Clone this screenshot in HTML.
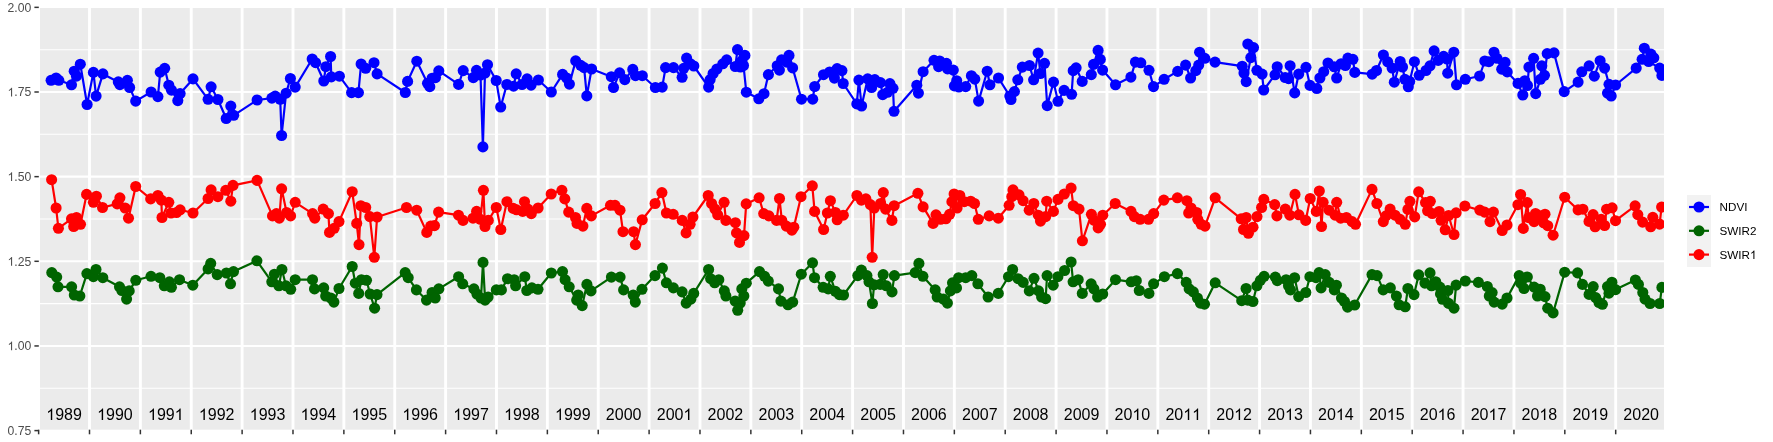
<!DOCTYPE html><html><head><meta charset="utf-8"><style>html,body{margin:0;padding:0;background:#fff;width:1773px;height:442px;overflow:hidden}svg{display:block;will-change:transform}text{font-family:"Liberation Sans",sans-serif}</style></head><body><svg width="1773" height="442" viewBox="0 0 1773 442"><rect x="0" y="0" width="1773" height="442" fill="#FFFFFF"/><rect x="40" y="8.00" width="1624" height="421.70" fill="#EBEBEB"/><line x1="40" x2="1664" y1="49.68" y2="49.68" stroke="#FFFFFF" stroke-width="1.07"/><line x1="40" x2="1664" y1="134.33" y2="134.33" stroke="#FFFFFF" stroke-width="1.07"/><line x1="40" x2="1664" y1="218.97" y2="218.97" stroke="#FFFFFF" stroke-width="1.07"/><line x1="40" x2="1664" y1="303.63" y2="303.63" stroke="#FFFFFF" stroke-width="1.07"/><line x1="40" x2="1664" y1="388.28" y2="388.28" stroke="#FFFFFF" stroke-width="1.07"/><line x1="40" x2="1664" y1="92.00" y2="92.00" stroke="#FFFFFF" stroke-width="2.13"/><line x1="40" x2="1664" y1="176.65" y2="176.65" stroke="#FFFFFF" stroke-width="2.13"/><line x1="40" x2="1664" y1="261.30" y2="261.30" stroke="#FFFFFF" stroke-width="2.13"/><line x1="40" x2="1664" y1="345.95" y2="345.95" stroke="#FFFFFF" stroke-width="2.13"/><line x1="89.50" x2="89.50" y1="8.00" y2="429.70" stroke="#FFFFFF" stroke-width="2.9"/><line x1="140.37" x2="140.37" y1="8.00" y2="429.70" stroke="#FFFFFF" stroke-width="2.9"/><line x1="191.25" x2="191.25" y1="8.00" y2="429.70" stroke="#FFFFFF" stroke-width="2.9"/><line x1="242.12" x2="242.12" y1="8.00" y2="429.70" stroke="#FFFFFF" stroke-width="2.9"/><line x1="292.99" x2="292.99" y1="8.00" y2="429.70" stroke="#FFFFFF" stroke-width="2.9"/><line x1="343.87" x2="343.87" y1="8.00" y2="429.70" stroke="#FFFFFF" stroke-width="2.9"/><line x1="394.74" x2="394.74" y1="8.00" y2="429.70" stroke="#FFFFFF" stroke-width="2.9"/><line x1="445.61" x2="445.61" y1="8.00" y2="429.70" stroke="#FFFFFF" stroke-width="2.9"/><line x1="496.48" x2="496.48" y1="8.00" y2="429.70" stroke="#FFFFFF" stroke-width="2.9"/><line x1="547.36" x2="547.36" y1="8.00" y2="429.70" stroke="#FFFFFF" stroke-width="2.9"/><line x1="598.23" x2="598.23" y1="8.00" y2="429.70" stroke="#FFFFFF" stroke-width="2.9"/><line x1="649.10" x2="649.10" y1="8.00" y2="429.70" stroke="#FFFFFF" stroke-width="2.9"/><line x1="699.98" x2="699.98" y1="8.00" y2="429.70" stroke="#FFFFFF" stroke-width="2.9"/><line x1="750.85" x2="750.85" y1="8.00" y2="429.70" stroke="#FFFFFF" stroke-width="2.9"/><line x1="801.72" x2="801.72" y1="8.00" y2="429.70" stroke="#FFFFFF" stroke-width="2.9"/><line x1="852.59" x2="852.59" y1="8.00" y2="429.70" stroke="#FFFFFF" stroke-width="2.9"/><line x1="903.47" x2="903.47" y1="8.00" y2="429.70" stroke="#FFFFFF" stroke-width="2.9"/><line x1="954.34" x2="954.34" y1="8.00" y2="429.70" stroke="#FFFFFF" stroke-width="2.9"/><line x1="1005.21" x2="1005.21" y1="8.00" y2="429.70" stroke="#FFFFFF" stroke-width="2.9"/><line x1="1056.09" x2="1056.09" y1="8.00" y2="429.70" stroke="#FFFFFF" stroke-width="2.9"/><line x1="1106.96" x2="1106.96" y1="8.00" y2="429.70" stroke="#FFFFFF" stroke-width="2.9"/><line x1="1157.83" x2="1157.83" y1="8.00" y2="429.70" stroke="#FFFFFF" stroke-width="2.9"/><line x1="1208.71" x2="1208.71" y1="8.00" y2="429.70" stroke="#FFFFFF" stroke-width="2.9"/><line x1="1259.58" x2="1259.58" y1="8.00" y2="429.70" stroke="#FFFFFF" stroke-width="2.9"/><line x1="1310.45" x2="1310.45" y1="8.00" y2="429.70" stroke="#FFFFFF" stroke-width="2.9"/><line x1="1361.33" x2="1361.33" y1="8.00" y2="429.70" stroke="#FFFFFF" stroke-width="2.9"/><line x1="1412.20" x2="1412.20" y1="8.00" y2="429.70" stroke="#FFFFFF" stroke-width="2.9"/><line x1="1463.07" x2="1463.07" y1="8.00" y2="429.70" stroke="#FFFFFF" stroke-width="2.9"/><line x1="1513.94" x2="1513.94" y1="8.00" y2="429.70" stroke="#FFFFFF" stroke-width="2.9"/><line x1="1564.82" x2="1564.82" y1="8.00" y2="429.70" stroke="#FFFFFF" stroke-width="2.9"/><line x1="1615.69" x2="1615.69" y1="8.00" y2="429.70" stroke="#FFFFFF" stroke-width="2.9"/><polygon points="52.23,420.00 50.83,420.00 50.83,411.04 50.32,411.52 49.65,412.01 48.83,412.49 48.01,412.88 48.01,411.52 49.20,410.83 50.19,410.05 50.89,409.25 51.32,408.55 52.23,408.55" fill="#000000"/><text x="55.17" y="420.00" font-family="Liberation Sans" font-size="16" fill="#000000">9</text><text x="64.06" y="420.00" font-family="Liberation Sans" font-size="16" fill="#000000">8</text><text x="72.96" y="420.00" font-family="Liberation Sans" font-size="16" fill="#000000">9</text><polygon points="103.11,420.00 101.70,420.00 101.70,411.04 101.19,411.52 100.53,412.01 99.71,412.49 98.89,412.88 98.89,411.52 100.07,410.83 101.06,410.05 101.76,409.25 102.19,408.55 103.11,408.55" fill="#000000"/><text x="106.04" y="420.00" font-family="Liberation Sans" font-size="16" fill="#000000">9</text><text x="114.94" y="420.00" font-family="Liberation Sans" font-size="16" fill="#000000">9</text><text x="123.83" y="420.00" font-family="Liberation Sans" font-size="16" fill="#000000">0</text><polygon points="153.98,420.00 152.57,420.00 152.57,411.04 152.06,411.52 151.40,412.01 150.58,412.49 149.76,412.88 149.76,411.52 150.95,410.83 151.93,410.05 152.63,409.25 153.06,408.55 153.98,408.55" fill="#000000"/><text x="156.91" y="420.00" font-family="Liberation Sans" font-size="16" fill="#000000">9</text><text x="165.81" y="420.00" font-family="Liberation Sans" font-size="16" fill="#000000">9</text><polygon points="180.67,420.00 179.26,420.00 179.26,411.04 178.75,411.52 178.09,412.01 177.27,412.49 176.45,412.88 176.45,411.52 177.64,410.83 178.62,410.05 179.32,409.25 179.75,408.55 180.67,408.55" fill="#000000"/><polygon points="204.85,420.00 203.45,420.00 203.45,411.04 202.94,411.52 202.27,412.01 201.45,412.49 200.63,412.88 200.63,411.52 201.82,410.83 202.80,410.05 203.51,409.25 203.94,408.55 204.85,408.55" fill="#000000"/><text x="207.79" y="420.00" font-family="Liberation Sans" font-size="16" fill="#000000">9</text><text x="216.68" y="420.00" font-family="Liberation Sans" font-size="16" fill="#000000">9</text><text x="225.58" y="420.00" font-family="Liberation Sans" font-size="16" fill="#000000">2</text><polygon points="255.72,420.00 254.32,420.00 254.32,411.04 253.81,411.52 253.15,412.01 252.33,412.49 251.51,412.88 251.51,411.52 252.69,410.83 253.68,410.05 254.38,409.25 254.81,408.55 255.72,408.55" fill="#000000"/><text x="258.66" y="420.00" font-family="Liberation Sans" font-size="16" fill="#000000">9</text><text x="267.56" y="420.00" font-family="Liberation Sans" font-size="16" fill="#000000">9</text><text x="276.45" y="420.00" font-family="Liberation Sans" font-size="16" fill="#000000">3</text><polygon points="306.60,420.00 305.19,420.00 305.19,411.04 304.68,411.52 304.02,412.01 303.20,412.49 302.38,412.88 302.38,411.52 303.57,410.83 304.55,410.05 305.25,409.25 305.68,408.55 306.60,408.55" fill="#000000"/><text x="309.53" y="420.00" font-family="Liberation Sans" font-size="16" fill="#000000">9</text><text x="318.43" y="420.00" font-family="Liberation Sans" font-size="16" fill="#000000">9</text><text x="327.32" y="420.00" font-family="Liberation Sans" font-size="16" fill="#000000">4</text><polygon points="357.47,420.00 356.06,420.00 356.06,411.04 355.56,411.52 354.89,412.01 354.07,412.49 353.25,412.88 353.25,411.52 354.44,410.83 355.42,410.05 356.13,409.25 356.56,408.55 357.47,408.55" fill="#000000"/><text x="360.41" y="420.00" font-family="Liberation Sans" font-size="16" fill="#000000">9</text><text x="369.30" y="420.00" font-family="Liberation Sans" font-size="16" fill="#000000">9</text><text x="378.20" y="420.00" font-family="Liberation Sans" font-size="16" fill="#000000">5</text><polygon points="408.34,420.00 406.94,420.00 406.94,411.04 406.43,411.52 405.77,412.01 404.94,412.49 404.12,412.88 404.12,411.52 405.31,410.83 406.30,410.05 407.00,409.25 407.43,408.55 408.34,408.55" fill="#000000"/><text x="411.28" y="420.00" font-family="Liberation Sans" font-size="16" fill="#000000">9</text><text x="420.17" y="420.00" font-family="Liberation Sans" font-size="16" fill="#000000">9</text><text x="429.07" y="420.00" font-family="Liberation Sans" font-size="16" fill="#000000">6</text><polygon points="459.22,420.00 457.81,420.00 457.81,411.04 457.30,411.52 456.64,412.01 455.82,412.49 455.00,412.88 455.00,411.52 456.19,410.83 457.17,410.05 457.87,409.25 458.30,408.55 459.22,408.55" fill="#000000"/><text x="462.15" y="420.00" font-family="Liberation Sans" font-size="16" fill="#000000">9</text><text x="471.05" y="420.00" font-family="Liberation Sans" font-size="16" fill="#000000">9</text><text x="479.94" y="420.00" font-family="Liberation Sans" font-size="16" fill="#000000">7</text><polygon points="510.09,420.00 508.68,420.00 508.68,411.04 508.18,411.52 507.51,412.01 506.69,412.49 505.87,412.88 505.87,411.52 507.06,410.83 508.04,410.05 508.75,409.25 509.18,408.55 510.09,408.55" fill="#000000"/><text x="513.02" y="420.00" font-family="Liberation Sans" font-size="16" fill="#000000">9</text><text x="521.92" y="420.00" font-family="Liberation Sans" font-size="16" fill="#000000">9</text><text x="530.82" y="420.00" font-family="Liberation Sans" font-size="16" fill="#000000">8</text><polygon points="560.96,420.00 559.56,420.00 559.56,411.04 559.05,411.52 558.38,412.01 557.56,412.49 556.74,412.88 556.74,411.52 557.93,410.83 558.92,410.05 559.62,409.25 560.05,408.55 560.96,408.55" fill="#000000"/><text x="563.90" y="420.00" font-family="Liberation Sans" font-size="16" fill="#000000">9</text><text x="572.79" y="420.00" font-family="Liberation Sans" font-size="16" fill="#000000">9</text><text x="581.69" y="420.00" font-family="Liberation Sans" font-size="16" fill="#000000">9</text><text x="605.87" y="420.00" font-family="Liberation Sans" font-size="16" fill="#000000">2</text><text x="614.77" y="420.00" font-family="Liberation Sans" font-size="16" fill="#000000">0</text><text x="623.67" y="420.00" font-family="Liberation Sans" font-size="16" fill="#000000">0</text><text x="632.56" y="420.00" font-family="Liberation Sans" font-size="16" fill="#000000">0</text><text x="656.75" y="420.00" font-family="Liberation Sans" font-size="16" fill="#000000">2</text><text x="665.64" y="420.00" font-family="Liberation Sans" font-size="16" fill="#000000">0</text><text x="674.54" y="420.00" font-family="Liberation Sans" font-size="16" fill="#000000">0</text><polygon points="689.40,420.00 687.99,420.00 687.99,411.04 687.48,411.52 686.82,412.01 686.00,412.49 685.18,412.88 685.18,411.52 686.37,410.83 687.35,410.05 688.05,409.25 688.48,408.55 689.40,408.55" fill="#000000"/><text x="707.62" y="420.00" font-family="Liberation Sans" font-size="16" fill="#000000">2</text><text x="716.52" y="420.00" font-family="Liberation Sans" font-size="16" fill="#000000">0</text><text x="725.41" y="420.00" font-family="Liberation Sans" font-size="16" fill="#000000">0</text><text x="734.31" y="420.00" font-family="Liberation Sans" font-size="16" fill="#000000">2</text><text x="758.49" y="420.00" font-family="Liberation Sans" font-size="16" fill="#000000">2</text><text x="767.39" y="420.00" font-family="Liberation Sans" font-size="16" fill="#000000">0</text><text x="776.29" y="420.00" font-family="Liberation Sans" font-size="16" fill="#000000">0</text><text x="785.18" y="420.00" font-family="Liberation Sans" font-size="16" fill="#000000">3</text><text x="809.37" y="420.00" font-family="Liberation Sans" font-size="16" fill="#000000">2</text><text x="818.26" y="420.00" font-family="Liberation Sans" font-size="16" fill="#000000">0</text><text x="827.16" y="420.00" font-family="Liberation Sans" font-size="16" fill="#000000">0</text><text x="836.05" y="420.00" font-family="Liberation Sans" font-size="16" fill="#000000">4</text><text x="860.24" y="420.00" font-family="Liberation Sans" font-size="16" fill="#000000">2</text><text x="869.14" y="420.00" font-family="Liberation Sans" font-size="16" fill="#000000">0</text><text x="878.03" y="420.00" font-family="Liberation Sans" font-size="16" fill="#000000">0</text><text x="886.93" y="420.00" font-family="Liberation Sans" font-size="16" fill="#000000">5</text><text x="911.11" y="420.00" font-family="Liberation Sans" font-size="16" fill="#000000">2</text><text x="920.01" y="420.00" font-family="Liberation Sans" font-size="16" fill="#000000">0</text><text x="928.90" y="420.00" font-family="Liberation Sans" font-size="16" fill="#000000">0</text><text x="937.80" y="420.00" font-family="Liberation Sans" font-size="16" fill="#000000">6</text><text x="961.99" y="420.00" font-family="Liberation Sans" font-size="16" fill="#000000">2</text><text x="970.88" y="420.00" font-family="Liberation Sans" font-size="16" fill="#000000">0</text><text x="979.78" y="420.00" font-family="Liberation Sans" font-size="16" fill="#000000">0</text><text x="988.67" y="420.00" font-family="Liberation Sans" font-size="16" fill="#000000">7</text><text x="1012.86" y="420.00" font-family="Liberation Sans" font-size="16" fill="#000000">2</text><text x="1021.75" y="420.00" font-family="Liberation Sans" font-size="16" fill="#000000">0</text><text x="1030.65" y="420.00" font-family="Liberation Sans" font-size="16" fill="#000000">0</text><text x="1039.55" y="420.00" font-family="Liberation Sans" font-size="16" fill="#000000">8</text><text x="1063.73" y="420.00" font-family="Liberation Sans" font-size="16" fill="#000000">2</text><text x="1072.63" y="420.00" font-family="Liberation Sans" font-size="16" fill="#000000">0</text><text x="1081.52" y="420.00" font-family="Liberation Sans" font-size="16" fill="#000000">0</text><text x="1090.42" y="420.00" font-family="Liberation Sans" font-size="16" fill="#000000">9</text><text x="1114.60" y="420.00" font-family="Liberation Sans" font-size="16" fill="#000000">2</text><text x="1123.50" y="420.00" font-family="Liberation Sans" font-size="16" fill="#000000">0</text><polygon points="1138.36,420.00 1136.95,420.00 1136.95,411.04 1136.44,411.52 1135.78,412.01 1134.96,412.49 1134.14,412.88 1134.14,411.52 1135.33,410.83 1136.31,410.05 1137.01,409.25 1137.44,408.55 1138.36,408.55" fill="#000000"/><text x="1141.29" y="420.00" font-family="Liberation Sans" font-size="16" fill="#000000">0</text><text x="1165.48" y="420.00" font-family="Liberation Sans" font-size="16" fill="#000000">2</text><text x="1174.37" y="420.00" font-family="Liberation Sans" font-size="16" fill="#000000">0</text><polygon points="1189.23,420.00 1187.82,420.00 1187.82,411.04 1187.32,411.52 1186.65,412.01 1185.83,412.49 1185.01,412.88 1185.01,411.52 1186.20,410.83 1187.18,410.05 1187.89,409.25 1188.32,408.55 1189.23,408.55" fill="#000000"/><polygon points="1198.13,420.00 1196.72,420.00 1196.72,411.04 1196.21,411.52 1195.55,412.01 1194.73,412.49 1193.91,412.88 1193.91,411.52 1195.10,410.83 1196.08,410.05 1196.78,409.25 1197.21,408.55 1198.13,408.55" fill="#000000"/><text x="1216.35" y="420.00" font-family="Liberation Sans" font-size="16" fill="#000000">2</text><text x="1225.25" y="420.00" font-family="Liberation Sans" font-size="16" fill="#000000">0</text><polygon points="1240.10,420.00 1238.70,420.00 1238.70,411.04 1238.19,411.52 1237.53,412.01 1236.70,412.49 1235.88,412.88 1235.88,411.52 1237.07,410.83 1238.06,410.05 1238.76,409.25 1239.19,408.55 1240.10,408.55" fill="#000000"/><text x="1243.04" y="420.00" font-family="Liberation Sans" font-size="16" fill="#000000">2</text><text x="1267.22" y="420.00" font-family="Liberation Sans" font-size="16" fill="#000000">2</text><text x="1276.12" y="420.00" font-family="Liberation Sans" font-size="16" fill="#000000">0</text><polygon points="1290.98,420.00 1289.57,420.00 1289.57,411.04 1289.06,411.52 1288.40,412.01 1287.58,412.49 1286.76,412.88 1286.76,411.52 1287.95,410.83 1288.93,410.05 1289.63,409.25 1290.06,408.55 1290.98,408.55" fill="#000000"/><text x="1293.91" y="420.00" font-family="Liberation Sans" font-size="16" fill="#000000">3</text><text x="1318.10" y="420.00" font-family="Liberation Sans" font-size="16" fill="#000000">2</text><text x="1326.99" y="420.00" font-family="Liberation Sans" font-size="16" fill="#000000">0</text><polygon points="1341.85,420.00 1340.44,420.00 1340.44,411.04 1339.94,411.52 1339.27,412.01 1338.45,412.49 1337.63,412.88 1337.63,411.52 1338.82,410.83 1339.80,410.05 1340.51,409.25 1340.94,408.55 1341.85,408.55" fill="#000000"/><text x="1344.78" y="420.00" font-family="Liberation Sans" font-size="16" fill="#000000">4</text><text x="1368.97" y="420.00" font-family="Liberation Sans" font-size="16" fill="#000000">2</text><text x="1377.87" y="420.00" font-family="Liberation Sans" font-size="16" fill="#000000">0</text><polygon points="1392.72,420.00 1391.32,420.00 1391.32,411.04 1390.81,411.52 1390.14,412.01 1389.32,412.49 1388.50,412.88 1388.50,411.52 1389.69,410.83 1390.68,410.05 1391.38,409.25 1391.81,408.55 1392.72,408.55" fill="#000000"/><text x="1395.66" y="420.00" font-family="Liberation Sans" font-size="16" fill="#000000">5</text><text x="1419.84" y="420.00" font-family="Liberation Sans" font-size="16" fill="#000000">2</text><text x="1428.74" y="420.00" font-family="Liberation Sans" font-size="16" fill="#000000">0</text><polygon points="1443.60,420.00 1442.19,420.00 1442.19,411.04 1441.68,411.52 1441.02,412.01 1440.20,412.49 1439.38,412.88 1439.38,411.52 1440.56,410.83 1441.55,410.05 1442.25,409.25 1442.68,408.55 1443.60,408.55" fill="#000000"/><text x="1446.53" y="420.00" font-family="Liberation Sans" font-size="16" fill="#000000">6</text><text x="1470.72" y="420.00" font-family="Liberation Sans" font-size="16" fill="#000000">2</text><text x="1479.61" y="420.00" font-family="Liberation Sans" font-size="16" fill="#000000">0</text><polygon points="1494.47,420.00 1493.06,420.00 1493.06,411.04 1492.55,411.52 1491.89,412.01 1491.07,412.49 1490.25,412.88 1490.25,411.52 1491.44,410.83 1492.42,410.05 1493.12,409.25 1493.55,408.55 1494.47,408.55" fill="#000000"/><text x="1497.40" y="420.00" font-family="Liberation Sans" font-size="16" fill="#000000">7</text><text x="1521.59" y="420.00" font-family="Liberation Sans" font-size="16" fill="#000000">2</text><text x="1530.48" y="420.00" font-family="Liberation Sans" font-size="16" fill="#000000">0</text><polygon points="1545.34,420.00 1543.94,420.00 1543.94,411.04 1543.43,411.52 1542.76,412.01 1541.94,412.49 1541.12,412.88 1541.12,411.52 1542.31,410.83 1543.29,410.05 1544.00,409.25 1544.43,408.55 1545.34,408.55" fill="#000000"/><text x="1548.28" y="420.00" font-family="Liberation Sans" font-size="16" fill="#000000">8</text><text x="1572.46" y="420.00" font-family="Liberation Sans" font-size="16" fill="#000000">2</text><text x="1581.36" y="420.00" font-family="Liberation Sans" font-size="16" fill="#000000">0</text><polygon points="1596.21,420.00 1594.81,420.00 1594.81,411.04 1594.30,411.52 1593.64,412.01 1592.82,412.49 1592.00,412.88 1592.00,411.52 1593.18,410.83 1594.17,410.05 1594.87,409.25 1595.30,408.55 1596.21,408.55" fill="#000000"/><text x="1599.15" y="420.00" font-family="Liberation Sans" font-size="16" fill="#000000">9</text><text x="1623.33" y="420.00" font-family="Liberation Sans" font-size="16" fill="#000000">2</text><text x="1632.23" y="420.00" font-family="Liberation Sans" font-size="16" fill="#000000">0</text><text x="1641.13" y="420.00" font-family="Liberation Sans" font-size="16" fill="#000000">2</text><text x="1650.02" y="420.00" font-family="Liberation Sans" font-size="16" fill="#000000">0</text><defs><clipPath id="pc"><rect x="40" y="8.0" width="1624" height="421.7"/></clipPath></defs><g clip-path="url(#pc)"><path d="M51.1,80.3 L56.1,78.0 L58.8,80.3 L71.5,84.8 L74.2,71.2 L76.5,76.2 L80.3,64.2 L87.1,104.5 L93.4,72.4 L96.1,96.1 L102.9,73.9 L118.3,81.9 L119.9,84.6 L127.4,80.3 L129.6,87.5 L135.7,101.1 L151.1,92.0 L157.9,96.6 L160.2,72.1 L164.7,68.3 L168.8,85.2 L171.5,90.2 L177.8,100.6 L180.1,93.6 L193.0,78.9 L208.1,99.3 L211.1,86.8 L217.9,99.5 L226.2,118.5 L230.8,106.1 L233.7,115.3 L257.1,100.0 L271.9,98.1 L275.2,96.1 L280.2,99.3 L281.6,135.5 L286.1,93.2 L290.4,78.5 L295.2,87.1 L312.2,59.0 L315.6,62.7 L323.8,81.0 L325.8,66.7 L330.6,56.5 L331.3,76.9 L339.4,76.2 L351.6,92.6 L358.4,92.6 L361.1,64.0 L365.7,68.3 L374.0,62.7 L377.1,73.9 L405.3,92.5 L407.6,81.4 L416.8,61.2 L427.5,83.3 L429.8,86.7 L432.1,78.2 L435.5,77.6 L438.8,70.8 L458.6,84.4 L463.2,70.6 L473.3,77.6 L476.5,70.3 L480.5,75.0 L482.9,146.9 L485.0,73.0 L487.5,64.7 L496.2,80.5 L500.7,107.0 L506.8,84.5 L513.6,86.2 L516.2,73.8 L522.0,84.5 L527.1,78.8 L531.1,85.1 L538.4,80.0 L551.3,92.0 L562.6,74.4 L566.7,78.0 L569.4,84.1 L575.7,60.8 L580.7,65.3 L584.1,67.6 L586.8,95.9 L591.6,69.0 L611.3,76.7 L613.5,87.5 L619.6,72.8 L624.8,79.6 L632.8,69.4 L635.5,75.7 L642.3,75.7 L655.4,87.5 L662.2,87.1 L665.6,67.6 L673.5,67.6 L682.1,77.3 L683.7,68.3 L686.6,58.1 L690.5,63.8 L693.8,66.0 L708.6,87.1 L710.1,79.6 L713.1,73.5 L716.9,69.0 L722.8,63.8 L726.7,59.9 L735.3,66.5 L737.5,49.6 L741.9,60.6 L744.9,55.4 L740.5,67.0 L743.5,65.5 L746.3,92.2 L758.8,98.8 L764.0,93.7 L768.4,74.6 L777.2,65.7 L779.4,70.1 L781.6,59.9 L786.8,62.1 L789.0,55.4 L792.6,67.9 L801.5,99.2 L812.7,99.2 L814.7,86.5 L823.5,74.7 L829.6,72.0 L834.4,78.1 L837.1,68.6 L841.9,70.6 L843.2,83.5 L856.8,103.9 L858.9,80.1 L861.6,106.0 L867.7,78.8 L871.6,87.5 L874.8,79.6 L880.5,82.6 L882.7,94.7 L887.5,92.3 L889.9,83.6 L893.0,88.3 L894.0,111.3 L916.8,85.2 L918.4,93.1 L923.1,71.7 L934.0,60.3 L939.7,61.0 L938.6,66.7 L946.5,63.3 L947.6,68.9 L953.3,70.1 L954.4,85.9 L956.7,80.7 L958.9,87.0 L965.7,86.6 L971.4,75.7 L974.8,79.1 L978.6,101.1 L987.2,71.2 L989.9,84.8 L998.5,78.0 L1009.8,96.1 L1011.0,99.5 L1014.4,91.6 L1017.8,79.8 L1022.3,67.1 L1029.5,65.5 L1033.6,79.8 L1038.1,53.1 L1040.4,73.5 L1044.5,63.3 L1047.2,105.6 L1053.5,82.1 L1058.0,101.3 L1064.1,90.4 L1071.6,94.3 L1073.2,70.7 L1076.1,67.8 L1082.2,81.4 L1091.3,74.6 L1093.6,64.4 L1098.1,50.4 L1100.3,59.4 L1102.6,70.1 L1115.5,84.8 L1130.9,77.1 L1135.4,62.1 L1140.8,62.8 L1149.0,70.3 L1153.5,86.6 L1164.1,79.3 L1177.7,71.4 L1185.6,65.1 L1190.6,78.0 L1195.8,70.7 L1198.7,65.1 L1199.6,52.2 L1204.8,58.3 L1215.0,62.1 L1242.2,66.2 L1244.0,73.0 L1246.2,81.6 L1250.8,57.6 L1247.8,44.0 L1253.5,47.6 L1256.9,70.3 L1262.1,74.1 L1263.7,90.0 L1275.0,74.8 L1277.2,66.7 L1285.2,77.5 L1288.6,78.6 L1290.1,65.7 L1294.7,92.9 L1298.7,74.1 L1306.0,67.3 L1310.0,85.4 L1316.8,88.5 L1319.9,78.0 L1323.7,71.7 L1328.0,63.0 L1334.2,66.8 L1336.7,78.0 L1341.1,63.7 L1345.4,65.5 L1347.9,58.1 L1352.9,59.3 L1354.8,72.4 L1372.2,74.2 L1376.5,70.5 L1383.4,55.0 L1387.7,61.8 L1392.1,68.0 L1394.3,82.2 L1400.2,61.5 L1402.5,67.0 L1404.9,79.3 L1408.3,86.8 L1409.7,81.4 L1414.4,61.7 L1419.2,75.3 L1426.0,70.5 L1430.0,65.8 L1434.1,50.9 L1438.2,60.4 L1443.6,56.3 L1447.0,59.0 L1447.7,73.2 L1453.8,52.2 L1456.5,84.8 L1465.3,79.3 L1479.6,76.0 L1484.8,61.0 L1488.9,61.7 L1494.0,52.2 L1497.0,58.3 L1501.7,69.2 L1505.1,62.4 L1507.2,71.9 L1518.0,83.4 L1522.8,95.0 L1524.8,80.7 L1527.5,85.5 L1528.9,67.1 L1533.6,58.3 L1535.7,93.6 L1540.4,79.3 L1541.8,65.8 L1544.5,75.3 L1547.2,53.6 L1554.0,52.9 L1564.2,91.6 L1578.1,82.1 L1581.8,71.8 L1589.1,65.9 L1594.3,76.2 L1600.1,60.7 L1604.6,68.1 L1609.0,84.3 L1607.5,93.1 L1611.2,96.0 L1615.6,85.0 L1636.2,68.1 L1642.1,59.3 L1644.3,48.2 L1650.9,54.1 L1653.8,57.8 L1648.7,61.5 L1659.7,68.1 L1661.9,75.4" fill="none" stroke="#0000FF" stroke-width="2.2" stroke-linejoin="round" stroke-linecap="butt"/><path d="M51.8,272.6 L56.7,277.1 L58.0,286.8 L71.6,286.8 L74.3,295.0 L79.8,296.0 L86.9,273.6 L93.4,276.7 L96.0,269.5 L102.8,277.7 L119.5,286.8 L121.9,290.5 L126.6,299.1 L129.2,290.9 L135.8,280.3 L151.0,276.3 L159.8,277.7 L164.3,285.8 L169.4,281.8 L171.4,287.3 L179.5,279.7 L192.8,285.2 L208.1,268.9 L210.7,263.4 L217.2,274.6 L226.4,273.0 L230.5,283.8 L233.5,271.6 L256.9,260.8 L271.8,281.8 L274.4,274.2 L278.9,285.8 L281.9,269.5 L286.0,285.8 L290.7,289.3 L295.2,279.7 L312.5,279.7 L314.5,288.9 L323.7,287.9 L325.7,296.0 L330.8,298.0 L333.9,302.1 L339.0,288.5 L352.2,266.5 L355.3,283.2 L358.7,293.4 L361.4,279.7 L366.5,280.3 L370.1,294.0 L374.6,308.2 L377.0,294.6 L405.2,272.6 L408.2,277.7 L416.4,289.9 L426.5,300.1 L432.1,292.5 L435.2,298.0 L438.8,288.9 L458.6,276.7 L462.7,283.8 L473.9,288.9 L476.9,294.0 L481.0,298.0 L483.0,262.4 L485.1,300.1 L488.1,297.0 L496.3,289.9 L501.4,289.9 L507.5,278.7 L514.2,279.7 L515.6,285.8 L524.8,276.7 L526.8,290.5 L531.9,287.9 L538.0,289.3 L551.3,273.0 L562.5,271.6 L565.1,279.7 L569.2,286.8 L576.7,300.1 L578.2,295.0 L582.2,305.6 L586.9,284.4 L591.0,290.9 L611.4,277.1 L620.1,277.1 L623.6,289.9 L633.2,295.0 L635.3,302.1 L642.0,289.3 L655.0,275.6 L662.4,268.1 L666.4,282.8 L673.4,287.9 L682.1,291.9 L686.2,303.1 L690.9,299.1 L693.7,293.4 L708.6,269.5 L710.6,278.7 L714.7,282.8 L718.8,279.7 L724.3,290.9 L725.9,296.0 L735.1,301.1 L737.7,310.3 L740.2,303.1 L743.8,296.0 L741.8,288.9 L746.3,283.2 L759.5,271.6 L764.6,276.3 L768.3,281.1 L778.5,288.9 L780.9,301.1 L788.0,304.8 L792.7,302.1 L801.3,274.2 L812.5,262.8 L814.5,277.7 L823.1,287.3 L828.2,288.9 L830.3,276.3 L835.4,291.3 L839.4,294.6 L843.5,295.0 L857.8,275.6 L861.4,270.1 L866.9,275.6 L869.0,281.8 L872.4,303.5 L874.1,284.8 L880.2,284.4 L883.2,274.6 L886.3,285.8 L892.0,291.9 L894.4,275.6 L915.2,272.6 L918.9,263.4 L922.9,276.3 L935.2,289.9 L937.2,297.0 L943.3,299.1 L947.4,303.1 L950.4,290.9 L952.5,282.8 L956.5,287.9 L958.6,277.7 L965.7,277.7 L971.8,275.6 L977.9,283.8 L988.1,297.0 L998.3,293.4 L1008.5,276.7 L1012.6,269.5 L1018.1,278.7 L1023.2,282.4 L1029.3,290.9 L1034.0,278.3 L1038.5,290.9 L1041.6,297.0 L1045.6,298.7 L1047.1,275.6 L1053.2,285.2 L1057.9,276.7 L1064.6,270.5 L1071.1,262.0 L1073.1,281.8 L1078.2,279.7 L1082.3,293.4 L1091.1,283.8 L1093.9,288.9 L1097.6,297.0 L1102.7,294.0 L1115.5,279.7 L1131.2,281.8 L1136.3,280.7 L1139.3,290.5 L1148.9,293.4 L1153.6,283.8 L1164.4,276.7 L1177.4,273.6 L1186.2,282.4 L1189.2,288.9 L1193.3,291.9 L1197.4,298.0 L1200.4,303.1 L1204.5,304.2 L1215.2,282.8 L1241.7,300.7 L1246.1,288.5 L1247.8,300.1 L1252.9,301.5 L1256.9,285.8 L1260.4,280.3 L1264.1,276.3 L1275.3,277.1 L1277.3,280.7 L1286.1,279.7 L1288.5,285.8 L1290.5,289.9 L1294.6,277.7 L1298.7,296.6 L1305.8,292.5 L1309.9,276.7 L1316.0,277.7 L1319.1,272.6 L1321.1,287.9 L1325.2,274.6 L1329.2,282.4 L1334.3,289.9 L1336.4,285.2 L1341.5,298.0 L1344.5,301.5 L1347.6,307.2 L1354.7,305.0 L1372.0,274.6 L1377.1,275.6 L1383.2,289.9 L1390.3,287.9 L1396.4,296.0 L1399.1,304.8 L1405.2,306.8 L1407.9,288.5 L1414.0,294.6 L1418.7,274.9 L1424.9,283.1 L1430.0,272.9 L1431.6,285.8 L1435.7,281.7 L1439.8,287.1 L1440.5,293.9 L1442.5,299.3 L1447.9,290.5 L1448.6,303.4 L1454.0,308.2 L1456.1,285.1 L1465.3,281.0 L1478.4,282.4 L1487.3,286.5 L1489.3,296.0 L1492.1,292.6 L1494.1,302.1 L1502.2,304.1 L1507.0,298.0 L1519.2,275.6 L1520.6,283.1 L1524.0,288.5 L1527.3,277.0 L1534.1,287.1 L1537.5,296.0 L1540.2,289.2 L1545.0,296.6 L1547.7,308.2 L1553.1,312.9 L1564.7,272.2 L1577.6,272.9 L1582.5,284.4 L1589.1,294.4 L1593.2,286.6 L1595.7,297.6 L1599.0,302.5 L1602.4,304.3 L1607.5,286.6 L1609.0,293.2 L1611.9,282.2 L1615.6,289.6 L1635.4,280.0 L1638.4,284.4 L1642.8,292.5 L1645.0,299.1 L1650.1,303.5 L1659.7,303.5 L1661.9,287.4" fill="none" stroke="#006400" stroke-width="2.2" stroke-linejoin="round" stroke-linecap="butt"/><path d="M51.6,179.7 L56.1,208.0 L58.4,228.3 L71.5,218.8 L73.7,226.5 L76.5,217.5 L80.5,224.3 L86.6,194.4 L93.4,202.3 L96.4,196.2 L102.5,207.5 L117.2,203.9 L119.9,197.8 L125.1,208.0 L128.5,218.2 L135.7,186.5 L150.7,198.9 L157.9,195.5 L161.3,200.1 L162.0,217.5 L168.8,202.3 L171.0,213.0 L176.5,212.5 L180.1,209.8 L193.0,213.0 L208.1,198.5 L211.1,189.9 L217.9,196.7 L225.8,190.3 L230.8,201.2 L233.0,185.4 L257.1,180.4 L272.5,215.9 L276.4,213.6 L279.3,218.2 L281.6,188.8 L286.6,212.5 L290.6,215.9 L295.2,202.3 L312.6,213.6 L314.8,218.2 L323.2,209.1 L328.4,213.6 L329.5,232.4 L334.1,228.3 L339.0,221.6 L352.2,191.7 L356.7,223.4 L359.0,244.6 L360.8,205.7 L365.7,207.5 L369.8,216.6 L374.3,257.3 L377.1,217.0 L406.5,207.5 L416.7,210.2 L426.8,232.4 L430.7,226.1 L434.5,225.6 L438.6,212.1 L458.5,215.2 L463.0,220.4 L473.0,218.2 L476.6,211.4 L480.4,219.3 L483.4,190.3 L485.0,226.5 L488.3,220.4 L496.3,207.5 L500.8,229.5 L506.9,201.7 L513.2,208.4 L516.6,209.8 L522.7,211.4 L524.5,201.7 L527.9,209.1 L531.3,213.6 L538.1,208.0 L551.2,194.0 L561.9,190.3 L564.8,198.9 L568.7,212.1 L575.5,217.5 L577.0,223.4 L582.9,226.1 L586.8,208.4 L591.3,215.9 L610.5,205.3 L615.0,205.3 L620.0,210.2 L623.0,231.7 L633.6,231.7 L635.4,244.6 L642.2,219.8 L655.1,203.5 L661.9,192.6 L666.4,213.0 L673.2,214.3 L682.2,220.4 L686.1,232.9 L690.1,224.3 L692.9,217.0 L708.2,195.5 L711.6,203.5 L715.0,209.1 L717.7,214.8 L724.1,202.3 L725.9,220.4 L735.4,222.7 L736.5,232.9 L739.5,242.4 L744.0,235.6 L746.2,203.9 L759.1,197.8 L763.7,213.6 L768.9,215.9 L776.6,220.4 L779.5,198.5 L781.8,220.4 L786.3,226.1 L791.9,230.2 L793.8,227.2 L801.0,196.7 L812.3,185.8 L814.6,211.4 L823.6,229.5 L827.4,213.0 L830.4,200.7 L835.4,212.5 L837.2,219.8 L843.3,215.2 L856.9,195.5 L861.4,200.1 L865.9,198.9 L870.4,204.6 L872.2,257.3 L874.3,208.0 L880.6,203.5 L883.3,192.6 L885.6,209.1 L891.9,220.4 L894.2,205.7 L917.9,193.3 L923.1,206.9 L933.1,223.4 L936.0,214.8 L940.6,219.3 L945.8,218.8 L949.6,214.3 L951.9,201.7 L954.1,194.0 L957.1,208.0 L959.8,195.5 L964.3,201.7 L970.7,201.2 L974.5,203.5 L978.3,219.3 L989.2,215.9 L998.3,218.2 L1009.1,205.3 L1011.8,196.7 L1013.0,189.9 L1019.0,194.9 L1023.1,200.7 L1029.2,210.2 L1033.8,203.5 L1038.3,215.2 L1040.5,221.1 L1045.7,216.6 L1046.7,201.2 L1053.4,211.4 L1058.0,199.4 L1064.3,194.0 L1071.1,188.1 L1073.3,205.7 L1079.0,209.1 L1082.4,240.8 L1091.4,214.3 L1094.2,220.4 L1098.2,227.9 L1100.5,224.3 L1102.8,215.2 L1115.2,203.5 L1131.0,211.4 L1134.4,216.6 L1140.1,219.3 L1148.5,219.3 L1153.7,213.6 L1163.8,200.1 L1177.4,197.8 L1186.9,200.7 L1188.7,213.0 L1191.0,208.0 L1196.7,212.5 L1197.8,219.3 L1201.2,224.3 L1205.0,226.1 L1215.2,197.8 L1241.2,218.8 L1243.5,229.5 L1246.2,217.5 L1248.4,233.3 L1253.0,227.2 L1257.0,216.6 L1261.6,207.5 L1263.8,199.4 L1274.7,204.6 L1276.9,215.9 L1285.3,209.1 L1289.8,215.2 L1295.0,194.4 L1298.9,214.8 L1305.7,220.4 L1310.2,198.5 L1316.3,211.4 L1319.3,191.0 L1321.5,226.5 L1323.1,202.3 L1329.0,210.2 L1335.1,215.2 L1336.7,202.3 L1340.7,218.2 L1346.4,217.5 L1352.1,221.6 L1355.5,224.3 L1372.0,189.4 L1376.9,203.5 L1383.3,221.6 L1386.0,215.9 L1390.1,209.1 L1395.0,215.2 L1400.0,219.3 L1405.2,224.3 L1407.9,209.4 L1409.9,201.3 L1414.7,216.9 L1418.7,191.8 L1425.5,202.6 L1427.6,210.8 L1430.3,201.3 L1432.3,213.5 L1439.1,211.5 L1441.1,220.3 L1445.2,229.8 L1448.6,215.5 L1454.0,234.5 L1456.1,212.8 L1464.9,206.0 L1479.8,210.1 L1484.6,212.1 L1490.0,221.6 L1493.4,212.1 L1502.2,230.5 L1507.0,225.0 L1517.9,204.7 L1520.6,194.5 L1523.3,228.4 L1527.3,202.6 L1528.7,217.6 L1534.1,221.6 L1535.5,213.5 L1538.9,215.5 L1543.7,222.8 L1545.0,214.2 L1547.7,225.7 L1553.1,235.2 L1564.7,197.2 L1578.1,209.9 L1582.9,209.2 L1589.0,221.4 L1593.1,214.6 L1595.1,226.8 L1601.2,219.3 L1604.6,225.5 L1606.6,209.2 L1612.1,207.8 L1615.5,220.7 L1635.1,205.8 L1637.8,214.6 L1642.6,222.1 L1650.7,226.8 L1652.8,217.3 L1659.6,224.1 L1661.6,207.1" fill="none" stroke="#FF0000" stroke-width="2.2" stroke-linejoin="round" stroke-linecap="butt"/><circle cx="51.1" cy="80.3" r="5.55" fill="#0000FF"/><circle cx="56.1" cy="78.0" r="5.55" fill="#0000FF"/><circle cx="58.8" cy="80.3" r="5.55" fill="#0000FF"/><circle cx="71.5" cy="84.8" r="5.55" fill="#0000FF"/><circle cx="74.2" cy="71.2" r="5.55" fill="#0000FF"/><circle cx="76.5" cy="76.2" r="5.55" fill="#0000FF"/><circle cx="80.3" cy="64.2" r="5.55" fill="#0000FF"/><circle cx="87.1" cy="104.5" r="5.55" fill="#0000FF"/><circle cx="93.4" cy="72.4" r="5.55" fill="#0000FF"/><circle cx="96.1" cy="96.1" r="5.55" fill="#0000FF"/><circle cx="102.9" cy="73.9" r="5.55" fill="#0000FF"/><circle cx="118.3" cy="81.9" r="5.55" fill="#0000FF"/><circle cx="119.9" cy="84.6" r="5.55" fill="#0000FF"/><circle cx="127.4" cy="80.3" r="5.55" fill="#0000FF"/><circle cx="129.6" cy="87.5" r="5.55" fill="#0000FF"/><circle cx="135.7" cy="101.1" r="5.55" fill="#0000FF"/><circle cx="151.1" cy="92.0" r="5.55" fill="#0000FF"/><circle cx="157.9" cy="96.6" r="5.55" fill="#0000FF"/><circle cx="160.2" cy="72.1" r="5.55" fill="#0000FF"/><circle cx="164.7" cy="68.3" r="5.55" fill="#0000FF"/><circle cx="168.8" cy="85.2" r="5.55" fill="#0000FF"/><circle cx="171.5" cy="90.2" r="5.55" fill="#0000FF"/><circle cx="177.8" cy="100.6" r="5.55" fill="#0000FF"/><circle cx="180.1" cy="93.6" r="5.55" fill="#0000FF"/><circle cx="193.0" cy="78.9" r="5.55" fill="#0000FF"/><circle cx="208.1" cy="99.3" r="5.55" fill="#0000FF"/><circle cx="211.1" cy="86.8" r="5.55" fill="#0000FF"/><circle cx="217.9" cy="99.5" r="5.55" fill="#0000FF"/><circle cx="226.2" cy="118.5" r="5.55" fill="#0000FF"/><circle cx="230.8" cy="106.1" r="5.55" fill="#0000FF"/><circle cx="233.7" cy="115.3" r="5.55" fill="#0000FF"/><circle cx="257.1" cy="100.0" r="5.55" fill="#0000FF"/><circle cx="271.9" cy="98.1" r="5.55" fill="#0000FF"/><circle cx="275.2" cy="96.1" r="5.55" fill="#0000FF"/><circle cx="280.2" cy="99.3" r="5.55" fill="#0000FF"/><circle cx="281.6" cy="135.5" r="5.55" fill="#0000FF"/><circle cx="286.1" cy="93.2" r="5.55" fill="#0000FF"/><circle cx="290.4" cy="78.5" r="5.55" fill="#0000FF"/><circle cx="295.2" cy="87.1" r="5.55" fill="#0000FF"/><circle cx="312.2" cy="59.0" r="5.55" fill="#0000FF"/><circle cx="315.6" cy="62.7" r="5.55" fill="#0000FF"/><circle cx="323.8" cy="81.0" r="5.55" fill="#0000FF"/><circle cx="325.8" cy="66.7" r="5.55" fill="#0000FF"/><circle cx="330.6" cy="56.5" r="5.55" fill="#0000FF"/><circle cx="331.3" cy="76.9" r="5.55" fill="#0000FF"/><circle cx="339.4" cy="76.2" r="5.55" fill="#0000FF"/><circle cx="351.6" cy="92.6" r="5.55" fill="#0000FF"/><circle cx="358.4" cy="92.6" r="5.55" fill="#0000FF"/><circle cx="361.1" cy="64.0" r="5.55" fill="#0000FF"/><circle cx="365.7" cy="68.3" r="5.55" fill="#0000FF"/><circle cx="374.0" cy="62.7" r="5.55" fill="#0000FF"/><circle cx="377.1" cy="73.9" r="5.55" fill="#0000FF"/><circle cx="405.3" cy="92.5" r="5.55" fill="#0000FF"/><circle cx="407.6" cy="81.4" r="5.55" fill="#0000FF"/><circle cx="416.8" cy="61.2" r="5.55" fill="#0000FF"/><circle cx="427.5" cy="83.3" r="5.55" fill="#0000FF"/><circle cx="429.8" cy="86.7" r="5.55" fill="#0000FF"/><circle cx="432.1" cy="78.2" r="5.55" fill="#0000FF"/><circle cx="435.5" cy="77.6" r="5.55" fill="#0000FF"/><circle cx="438.8" cy="70.8" r="5.55" fill="#0000FF"/><circle cx="458.6" cy="84.4" r="5.55" fill="#0000FF"/><circle cx="463.2" cy="70.6" r="5.55" fill="#0000FF"/><circle cx="473.3" cy="77.6" r="5.55" fill="#0000FF"/><circle cx="476.5" cy="70.3" r="5.55" fill="#0000FF"/><circle cx="480.5" cy="75.0" r="5.55" fill="#0000FF"/><circle cx="482.9" cy="146.9" r="5.55" fill="#0000FF"/><circle cx="485.0" cy="73.0" r="5.55" fill="#0000FF"/><circle cx="487.5" cy="64.7" r="5.55" fill="#0000FF"/><circle cx="496.2" cy="80.5" r="5.55" fill="#0000FF"/><circle cx="500.7" cy="107.0" r="5.55" fill="#0000FF"/><circle cx="506.8" cy="84.5" r="5.55" fill="#0000FF"/><circle cx="513.6" cy="86.2" r="5.55" fill="#0000FF"/><circle cx="516.2" cy="73.8" r="5.55" fill="#0000FF"/><circle cx="522.0" cy="84.5" r="5.55" fill="#0000FF"/><circle cx="527.1" cy="78.8" r="5.55" fill="#0000FF"/><circle cx="531.1" cy="85.1" r="5.55" fill="#0000FF"/><circle cx="538.4" cy="80.0" r="5.55" fill="#0000FF"/><circle cx="551.3" cy="92.0" r="5.55" fill="#0000FF"/><circle cx="562.6" cy="74.4" r="5.55" fill="#0000FF"/><circle cx="566.7" cy="78.0" r="5.55" fill="#0000FF"/><circle cx="569.4" cy="84.1" r="5.55" fill="#0000FF"/><circle cx="575.7" cy="60.8" r="5.55" fill="#0000FF"/><circle cx="580.7" cy="65.3" r="5.55" fill="#0000FF"/><circle cx="584.1" cy="67.6" r="5.55" fill="#0000FF"/><circle cx="586.8" cy="95.9" r="5.55" fill="#0000FF"/><circle cx="591.6" cy="69.0" r="5.55" fill="#0000FF"/><circle cx="611.3" cy="76.7" r="5.55" fill="#0000FF"/><circle cx="613.5" cy="87.5" r="5.55" fill="#0000FF"/><circle cx="619.6" cy="72.8" r="5.55" fill="#0000FF"/><circle cx="624.8" cy="79.6" r="5.55" fill="#0000FF"/><circle cx="632.8" cy="69.4" r="5.55" fill="#0000FF"/><circle cx="635.5" cy="75.7" r="5.55" fill="#0000FF"/><circle cx="642.3" cy="75.7" r="5.55" fill="#0000FF"/><circle cx="655.4" cy="87.5" r="5.55" fill="#0000FF"/><circle cx="662.2" cy="87.1" r="5.55" fill="#0000FF"/><circle cx="665.6" cy="67.6" r="5.55" fill="#0000FF"/><circle cx="673.5" cy="67.6" r="5.55" fill="#0000FF"/><circle cx="682.1" cy="77.3" r="5.55" fill="#0000FF"/><circle cx="683.7" cy="68.3" r="5.55" fill="#0000FF"/><circle cx="686.6" cy="58.1" r="5.55" fill="#0000FF"/><circle cx="690.5" cy="63.8" r="5.55" fill="#0000FF"/><circle cx="693.8" cy="66.0" r="5.55" fill="#0000FF"/><circle cx="708.6" cy="87.1" r="5.55" fill="#0000FF"/><circle cx="710.1" cy="79.6" r="5.55" fill="#0000FF"/><circle cx="713.1" cy="73.5" r="5.55" fill="#0000FF"/><circle cx="716.9" cy="69.0" r="5.55" fill="#0000FF"/><circle cx="722.8" cy="63.8" r="5.55" fill="#0000FF"/><circle cx="726.7" cy="59.9" r="5.55" fill="#0000FF"/><circle cx="735.3" cy="66.5" r="5.55" fill="#0000FF"/><circle cx="737.5" cy="49.6" r="5.55" fill="#0000FF"/><circle cx="741.9" cy="60.6" r="5.55" fill="#0000FF"/><circle cx="744.9" cy="55.4" r="5.55" fill="#0000FF"/><circle cx="740.5" cy="67.0" r="5.55" fill="#0000FF"/><circle cx="743.5" cy="65.5" r="5.55" fill="#0000FF"/><circle cx="746.3" cy="92.2" r="5.55" fill="#0000FF"/><circle cx="758.8" cy="98.8" r="5.55" fill="#0000FF"/><circle cx="764.0" cy="93.7" r="5.55" fill="#0000FF"/><circle cx="768.4" cy="74.6" r="5.55" fill="#0000FF"/><circle cx="777.2" cy="65.7" r="5.55" fill="#0000FF"/><circle cx="779.4" cy="70.1" r="5.55" fill="#0000FF"/><circle cx="781.6" cy="59.9" r="5.55" fill="#0000FF"/><circle cx="786.8" cy="62.1" r="5.55" fill="#0000FF"/><circle cx="789.0" cy="55.4" r="5.55" fill="#0000FF"/><circle cx="792.6" cy="67.9" r="5.55" fill="#0000FF"/><circle cx="801.5" cy="99.2" r="5.55" fill="#0000FF"/><circle cx="812.7" cy="99.2" r="5.55" fill="#0000FF"/><circle cx="814.7" cy="86.5" r="5.55" fill="#0000FF"/><circle cx="823.5" cy="74.7" r="5.55" fill="#0000FF"/><circle cx="829.6" cy="72.0" r="5.55" fill="#0000FF"/><circle cx="834.4" cy="78.1" r="5.55" fill="#0000FF"/><circle cx="837.1" cy="68.6" r="5.55" fill="#0000FF"/><circle cx="841.9" cy="70.6" r="5.55" fill="#0000FF"/><circle cx="843.2" cy="83.5" r="5.55" fill="#0000FF"/><circle cx="856.8" cy="103.9" r="5.55" fill="#0000FF"/><circle cx="858.9" cy="80.1" r="5.55" fill="#0000FF"/><circle cx="861.6" cy="106.0" r="5.55" fill="#0000FF"/><circle cx="867.7" cy="78.8" r="5.55" fill="#0000FF"/><circle cx="871.6" cy="87.5" r="5.55" fill="#0000FF"/><circle cx="874.8" cy="79.6" r="5.55" fill="#0000FF"/><circle cx="880.5" cy="82.6" r="5.55" fill="#0000FF"/><circle cx="882.7" cy="94.7" r="5.55" fill="#0000FF"/><circle cx="887.5" cy="92.3" r="5.55" fill="#0000FF"/><circle cx="889.9" cy="83.6" r="5.55" fill="#0000FF"/><circle cx="893.0" cy="88.3" r="5.55" fill="#0000FF"/><circle cx="894.0" cy="111.3" r="5.55" fill="#0000FF"/><circle cx="916.8" cy="85.2" r="5.55" fill="#0000FF"/><circle cx="918.4" cy="93.1" r="5.55" fill="#0000FF"/><circle cx="923.1" cy="71.7" r="5.55" fill="#0000FF"/><circle cx="934.0" cy="60.3" r="5.55" fill="#0000FF"/><circle cx="939.7" cy="61.0" r="5.55" fill="#0000FF"/><circle cx="938.6" cy="66.7" r="5.55" fill="#0000FF"/><circle cx="946.5" cy="63.3" r="5.55" fill="#0000FF"/><circle cx="947.6" cy="68.9" r="5.55" fill="#0000FF"/><circle cx="953.3" cy="70.1" r="5.55" fill="#0000FF"/><circle cx="954.4" cy="85.9" r="5.55" fill="#0000FF"/><circle cx="956.7" cy="80.7" r="5.55" fill="#0000FF"/><circle cx="958.9" cy="87.0" r="5.55" fill="#0000FF"/><circle cx="965.7" cy="86.6" r="5.55" fill="#0000FF"/><circle cx="971.4" cy="75.7" r="5.55" fill="#0000FF"/><circle cx="974.8" cy="79.1" r="5.55" fill="#0000FF"/><circle cx="978.6" cy="101.1" r="5.55" fill="#0000FF"/><circle cx="987.2" cy="71.2" r="5.55" fill="#0000FF"/><circle cx="989.9" cy="84.8" r="5.55" fill="#0000FF"/><circle cx="998.5" cy="78.0" r="5.55" fill="#0000FF"/><circle cx="1009.8" cy="96.1" r="5.55" fill="#0000FF"/><circle cx="1011.0" cy="99.5" r="5.55" fill="#0000FF"/><circle cx="1014.4" cy="91.6" r="5.55" fill="#0000FF"/><circle cx="1017.8" cy="79.8" r="5.55" fill="#0000FF"/><circle cx="1022.3" cy="67.1" r="5.55" fill="#0000FF"/><circle cx="1029.5" cy="65.5" r="5.55" fill="#0000FF"/><circle cx="1033.6" cy="79.8" r="5.55" fill="#0000FF"/><circle cx="1038.1" cy="53.1" r="5.55" fill="#0000FF"/><circle cx="1040.4" cy="73.5" r="5.55" fill="#0000FF"/><circle cx="1044.5" cy="63.3" r="5.55" fill="#0000FF"/><circle cx="1047.2" cy="105.6" r="5.55" fill="#0000FF"/><circle cx="1053.5" cy="82.1" r="5.55" fill="#0000FF"/><circle cx="1058.0" cy="101.3" r="5.55" fill="#0000FF"/><circle cx="1064.1" cy="90.4" r="5.55" fill="#0000FF"/><circle cx="1071.6" cy="94.3" r="5.55" fill="#0000FF"/><circle cx="1073.2" cy="70.7" r="5.55" fill="#0000FF"/><circle cx="1076.1" cy="67.8" r="5.55" fill="#0000FF"/><circle cx="1082.2" cy="81.4" r="5.55" fill="#0000FF"/><circle cx="1091.3" cy="74.6" r="5.55" fill="#0000FF"/><circle cx="1093.6" cy="64.4" r="5.55" fill="#0000FF"/><circle cx="1098.1" cy="50.4" r="5.55" fill="#0000FF"/><circle cx="1100.3" cy="59.4" r="5.55" fill="#0000FF"/><circle cx="1102.6" cy="70.1" r="5.55" fill="#0000FF"/><circle cx="1115.5" cy="84.8" r="5.55" fill="#0000FF"/><circle cx="1130.9" cy="77.1" r="5.55" fill="#0000FF"/><circle cx="1135.4" cy="62.1" r="5.55" fill="#0000FF"/><circle cx="1140.8" cy="62.8" r="5.55" fill="#0000FF"/><circle cx="1149.0" cy="70.3" r="5.55" fill="#0000FF"/><circle cx="1153.5" cy="86.6" r="5.55" fill="#0000FF"/><circle cx="1164.1" cy="79.3" r="5.55" fill="#0000FF"/><circle cx="1177.7" cy="71.4" r="5.55" fill="#0000FF"/><circle cx="1185.6" cy="65.1" r="5.55" fill="#0000FF"/><circle cx="1190.6" cy="78.0" r="5.55" fill="#0000FF"/><circle cx="1195.8" cy="70.7" r="5.55" fill="#0000FF"/><circle cx="1198.7" cy="65.1" r="5.55" fill="#0000FF"/><circle cx="1199.6" cy="52.2" r="5.55" fill="#0000FF"/><circle cx="1204.8" cy="58.3" r="5.55" fill="#0000FF"/><circle cx="1215.0" cy="62.1" r="5.55" fill="#0000FF"/><circle cx="1242.2" cy="66.2" r="5.55" fill="#0000FF"/><circle cx="1244.0" cy="73.0" r="5.55" fill="#0000FF"/><circle cx="1246.2" cy="81.6" r="5.55" fill="#0000FF"/><circle cx="1250.8" cy="57.6" r="5.55" fill="#0000FF"/><circle cx="1247.8" cy="44.0" r="5.55" fill="#0000FF"/><circle cx="1253.5" cy="47.6" r="5.55" fill="#0000FF"/><circle cx="1256.9" cy="70.3" r="5.55" fill="#0000FF"/><circle cx="1262.1" cy="74.1" r="5.55" fill="#0000FF"/><circle cx="1263.7" cy="90.0" r="5.55" fill="#0000FF"/><circle cx="1275.0" cy="74.8" r="5.55" fill="#0000FF"/><circle cx="1277.2" cy="66.7" r="5.55" fill="#0000FF"/><circle cx="1285.2" cy="77.5" r="5.55" fill="#0000FF"/><circle cx="1288.6" cy="78.6" r="5.55" fill="#0000FF"/><circle cx="1290.1" cy="65.7" r="5.55" fill="#0000FF"/><circle cx="1294.7" cy="92.9" r="5.55" fill="#0000FF"/><circle cx="1298.7" cy="74.1" r="5.55" fill="#0000FF"/><circle cx="1306.0" cy="67.3" r="5.55" fill="#0000FF"/><circle cx="1310.0" cy="85.4" r="5.55" fill="#0000FF"/><circle cx="1316.8" cy="88.5" r="5.55" fill="#0000FF"/><circle cx="1319.9" cy="78.0" r="5.55" fill="#0000FF"/><circle cx="1323.7" cy="71.7" r="5.55" fill="#0000FF"/><circle cx="1328.0" cy="63.0" r="5.55" fill="#0000FF"/><circle cx="1334.2" cy="66.8" r="5.55" fill="#0000FF"/><circle cx="1336.7" cy="78.0" r="5.55" fill="#0000FF"/><circle cx="1341.1" cy="63.7" r="5.55" fill="#0000FF"/><circle cx="1345.4" cy="65.5" r="5.55" fill="#0000FF"/><circle cx="1347.9" cy="58.1" r="5.55" fill="#0000FF"/><circle cx="1352.9" cy="59.3" r="5.55" fill="#0000FF"/><circle cx="1354.8" cy="72.4" r="5.55" fill="#0000FF"/><circle cx="1372.2" cy="74.2" r="5.55" fill="#0000FF"/><circle cx="1376.5" cy="70.5" r="5.55" fill="#0000FF"/><circle cx="1383.4" cy="55.0" r="5.55" fill="#0000FF"/><circle cx="1387.7" cy="61.8" r="5.55" fill="#0000FF"/><circle cx="1392.1" cy="68.0" r="5.55" fill="#0000FF"/><circle cx="1394.3" cy="82.2" r="5.55" fill="#0000FF"/><circle cx="1400.2" cy="61.5" r="5.55" fill="#0000FF"/><circle cx="1402.5" cy="67.0" r="5.55" fill="#0000FF"/><circle cx="1404.9" cy="79.3" r="5.55" fill="#0000FF"/><circle cx="1408.3" cy="86.8" r="5.55" fill="#0000FF"/><circle cx="1409.7" cy="81.4" r="5.55" fill="#0000FF"/><circle cx="1414.4" cy="61.7" r="5.55" fill="#0000FF"/><circle cx="1419.2" cy="75.3" r="5.55" fill="#0000FF"/><circle cx="1426.0" cy="70.5" r="5.55" fill="#0000FF"/><circle cx="1430.0" cy="65.8" r="5.55" fill="#0000FF"/><circle cx="1434.1" cy="50.9" r="5.55" fill="#0000FF"/><circle cx="1438.2" cy="60.4" r="5.55" fill="#0000FF"/><circle cx="1443.6" cy="56.3" r="5.55" fill="#0000FF"/><circle cx="1447.0" cy="59.0" r="5.55" fill="#0000FF"/><circle cx="1447.7" cy="73.2" r="5.55" fill="#0000FF"/><circle cx="1453.8" cy="52.2" r="5.55" fill="#0000FF"/><circle cx="1456.5" cy="84.8" r="5.55" fill="#0000FF"/><circle cx="1465.3" cy="79.3" r="5.55" fill="#0000FF"/><circle cx="1479.6" cy="76.0" r="5.55" fill="#0000FF"/><circle cx="1484.8" cy="61.0" r="5.55" fill="#0000FF"/><circle cx="1488.9" cy="61.7" r="5.55" fill="#0000FF"/><circle cx="1494.0" cy="52.2" r="5.55" fill="#0000FF"/><circle cx="1497.0" cy="58.3" r="5.55" fill="#0000FF"/><circle cx="1501.7" cy="69.2" r="5.55" fill="#0000FF"/><circle cx="1505.1" cy="62.4" r="5.55" fill="#0000FF"/><circle cx="1507.2" cy="71.9" r="5.55" fill="#0000FF"/><circle cx="1518.0" cy="83.4" r="5.55" fill="#0000FF"/><circle cx="1522.8" cy="95.0" r="5.55" fill="#0000FF"/><circle cx="1524.8" cy="80.7" r="5.55" fill="#0000FF"/><circle cx="1527.5" cy="85.5" r="5.55" fill="#0000FF"/><circle cx="1528.9" cy="67.1" r="5.55" fill="#0000FF"/><circle cx="1533.6" cy="58.3" r="5.55" fill="#0000FF"/><circle cx="1535.7" cy="93.6" r="5.55" fill="#0000FF"/><circle cx="1540.4" cy="79.3" r="5.55" fill="#0000FF"/><circle cx="1541.8" cy="65.8" r="5.55" fill="#0000FF"/><circle cx="1544.5" cy="75.3" r="5.55" fill="#0000FF"/><circle cx="1547.2" cy="53.6" r="5.55" fill="#0000FF"/><circle cx="1554.0" cy="52.9" r="5.55" fill="#0000FF"/><circle cx="1564.2" cy="91.6" r="5.55" fill="#0000FF"/><circle cx="1578.1" cy="82.1" r="5.55" fill="#0000FF"/><circle cx="1581.8" cy="71.8" r="5.55" fill="#0000FF"/><circle cx="1589.1" cy="65.9" r="5.55" fill="#0000FF"/><circle cx="1594.3" cy="76.2" r="5.55" fill="#0000FF"/><circle cx="1600.1" cy="60.7" r="5.55" fill="#0000FF"/><circle cx="1604.6" cy="68.1" r="5.55" fill="#0000FF"/><circle cx="1609.0" cy="84.3" r="5.55" fill="#0000FF"/><circle cx="1607.5" cy="93.1" r="5.55" fill="#0000FF"/><circle cx="1611.2" cy="96.0" r="5.55" fill="#0000FF"/><circle cx="1615.6" cy="85.0" r="5.55" fill="#0000FF"/><circle cx="1636.2" cy="68.1" r="5.55" fill="#0000FF"/><circle cx="1642.1" cy="59.3" r="5.55" fill="#0000FF"/><circle cx="1644.3" cy="48.2" r="5.55" fill="#0000FF"/><circle cx="1650.9" cy="54.1" r="5.55" fill="#0000FF"/><circle cx="1653.8" cy="57.8" r="5.55" fill="#0000FF"/><circle cx="1648.7" cy="61.5" r="5.55" fill="#0000FF"/><circle cx="1659.7" cy="68.1" r="5.55" fill="#0000FF"/><circle cx="1661.9" cy="75.4" r="5.55" fill="#0000FF"/><circle cx="51.8" cy="272.6" r="5.55" fill="#006400"/><circle cx="56.7" cy="277.1" r="5.55" fill="#006400"/><circle cx="58.0" cy="286.8" r="5.55" fill="#006400"/><circle cx="71.6" cy="286.8" r="5.55" fill="#006400"/><circle cx="74.3" cy="295.0" r="5.55" fill="#006400"/><circle cx="79.8" cy="296.0" r="5.55" fill="#006400"/><circle cx="86.9" cy="273.6" r="5.55" fill="#006400"/><circle cx="93.4" cy="276.7" r="5.55" fill="#006400"/><circle cx="96.0" cy="269.5" r="5.55" fill="#006400"/><circle cx="102.8" cy="277.7" r="5.55" fill="#006400"/><circle cx="119.5" cy="286.8" r="5.55" fill="#006400"/><circle cx="121.9" cy="290.5" r="5.55" fill="#006400"/><circle cx="126.6" cy="299.1" r="5.55" fill="#006400"/><circle cx="129.2" cy="290.9" r="5.55" fill="#006400"/><circle cx="135.8" cy="280.3" r="5.55" fill="#006400"/><circle cx="151.0" cy="276.3" r="5.55" fill="#006400"/><circle cx="159.8" cy="277.7" r="5.55" fill="#006400"/><circle cx="164.3" cy="285.8" r="5.55" fill="#006400"/><circle cx="169.4" cy="281.8" r="5.55" fill="#006400"/><circle cx="171.4" cy="287.3" r="5.55" fill="#006400"/><circle cx="179.5" cy="279.7" r="5.55" fill="#006400"/><circle cx="192.8" cy="285.2" r="5.55" fill="#006400"/><circle cx="208.1" cy="268.9" r="5.55" fill="#006400"/><circle cx="210.7" cy="263.4" r="5.55" fill="#006400"/><circle cx="217.2" cy="274.6" r="5.55" fill="#006400"/><circle cx="226.4" cy="273.0" r="5.55" fill="#006400"/><circle cx="230.5" cy="283.8" r="5.55" fill="#006400"/><circle cx="233.5" cy="271.6" r="5.55" fill="#006400"/><circle cx="256.9" cy="260.8" r="5.55" fill="#006400"/><circle cx="271.8" cy="281.8" r="5.55" fill="#006400"/><circle cx="274.4" cy="274.2" r="5.55" fill="#006400"/><circle cx="278.9" cy="285.8" r="5.55" fill="#006400"/><circle cx="281.9" cy="269.5" r="5.55" fill="#006400"/><circle cx="286.0" cy="285.8" r="5.55" fill="#006400"/><circle cx="290.7" cy="289.3" r="5.55" fill="#006400"/><circle cx="295.2" cy="279.7" r="5.55" fill="#006400"/><circle cx="312.5" cy="279.7" r="5.55" fill="#006400"/><circle cx="314.5" cy="288.9" r="5.55" fill="#006400"/><circle cx="323.7" cy="287.9" r="5.55" fill="#006400"/><circle cx="325.7" cy="296.0" r="5.55" fill="#006400"/><circle cx="330.8" cy="298.0" r="5.55" fill="#006400"/><circle cx="333.9" cy="302.1" r="5.55" fill="#006400"/><circle cx="339.0" cy="288.5" r="5.55" fill="#006400"/><circle cx="352.2" cy="266.5" r="5.55" fill="#006400"/><circle cx="355.3" cy="283.2" r="5.55" fill="#006400"/><circle cx="358.7" cy="293.4" r="5.55" fill="#006400"/><circle cx="361.4" cy="279.7" r="5.55" fill="#006400"/><circle cx="366.5" cy="280.3" r="5.55" fill="#006400"/><circle cx="370.1" cy="294.0" r="5.55" fill="#006400"/><circle cx="374.6" cy="308.2" r="5.55" fill="#006400"/><circle cx="377.0" cy="294.6" r="5.55" fill="#006400"/><circle cx="405.2" cy="272.6" r="5.55" fill="#006400"/><circle cx="408.2" cy="277.7" r="5.55" fill="#006400"/><circle cx="416.4" cy="289.9" r="5.55" fill="#006400"/><circle cx="426.5" cy="300.1" r="5.55" fill="#006400"/><circle cx="432.1" cy="292.5" r="5.55" fill="#006400"/><circle cx="435.2" cy="298.0" r="5.55" fill="#006400"/><circle cx="438.8" cy="288.9" r="5.55" fill="#006400"/><circle cx="458.6" cy="276.7" r="5.55" fill="#006400"/><circle cx="462.7" cy="283.8" r="5.55" fill="#006400"/><circle cx="473.9" cy="288.9" r="5.55" fill="#006400"/><circle cx="476.9" cy="294.0" r="5.55" fill="#006400"/><circle cx="481.0" cy="298.0" r="5.55" fill="#006400"/><circle cx="483.0" cy="262.4" r="5.55" fill="#006400"/><circle cx="485.1" cy="300.1" r="5.55" fill="#006400"/><circle cx="488.1" cy="297.0" r="5.55" fill="#006400"/><circle cx="496.3" cy="289.9" r="5.55" fill="#006400"/><circle cx="501.4" cy="289.9" r="5.55" fill="#006400"/><circle cx="507.5" cy="278.7" r="5.55" fill="#006400"/><circle cx="514.2" cy="279.7" r="5.55" fill="#006400"/><circle cx="515.6" cy="285.8" r="5.55" fill="#006400"/><circle cx="524.8" cy="276.7" r="5.55" fill="#006400"/><circle cx="526.8" cy="290.5" r="5.55" fill="#006400"/><circle cx="531.9" cy="287.9" r="5.55" fill="#006400"/><circle cx="538.0" cy="289.3" r="5.55" fill="#006400"/><circle cx="551.3" cy="273.0" r="5.55" fill="#006400"/><circle cx="562.5" cy="271.6" r="5.55" fill="#006400"/><circle cx="565.1" cy="279.7" r="5.55" fill="#006400"/><circle cx="569.2" cy="286.8" r="5.55" fill="#006400"/><circle cx="576.7" cy="300.1" r="5.55" fill="#006400"/><circle cx="578.2" cy="295.0" r="5.55" fill="#006400"/><circle cx="582.2" cy="305.6" r="5.55" fill="#006400"/><circle cx="586.9" cy="284.4" r="5.55" fill="#006400"/><circle cx="591.0" cy="290.9" r="5.55" fill="#006400"/><circle cx="611.4" cy="277.1" r="5.55" fill="#006400"/><circle cx="620.1" cy="277.1" r="5.55" fill="#006400"/><circle cx="623.6" cy="289.9" r="5.55" fill="#006400"/><circle cx="633.2" cy="295.0" r="5.55" fill="#006400"/><circle cx="635.3" cy="302.1" r="5.55" fill="#006400"/><circle cx="642.0" cy="289.3" r="5.55" fill="#006400"/><circle cx="655.0" cy="275.6" r="5.55" fill="#006400"/><circle cx="662.4" cy="268.1" r="5.55" fill="#006400"/><circle cx="666.4" cy="282.8" r="5.55" fill="#006400"/><circle cx="673.4" cy="287.9" r="5.55" fill="#006400"/><circle cx="682.1" cy="291.9" r="5.55" fill="#006400"/><circle cx="686.2" cy="303.1" r="5.55" fill="#006400"/><circle cx="690.9" cy="299.1" r="5.55" fill="#006400"/><circle cx="693.7" cy="293.4" r="5.55" fill="#006400"/><circle cx="708.6" cy="269.5" r="5.55" fill="#006400"/><circle cx="710.6" cy="278.7" r="5.55" fill="#006400"/><circle cx="714.7" cy="282.8" r="5.55" fill="#006400"/><circle cx="718.8" cy="279.7" r="5.55" fill="#006400"/><circle cx="724.3" cy="290.9" r="5.55" fill="#006400"/><circle cx="725.9" cy="296.0" r="5.55" fill="#006400"/><circle cx="735.1" cy="301.1" r="5.55" fill="#006400"/><circle cx="737.7" cy="310.3" r="5.55" fill="#006400"/><circle cx="740.2" cy="303.1" r="5.55" fill="#006400"/><circle cx="743.8" cy="296.0" r="5.55" fill="#006400"/><circle cx="741.8" cy="288.9" r="5.55" fill="#006400"/><circle cx="746.3" cy="283.2" r="5.55" fill="#006400"/><circle cx="759.5" cy="271.6" r="5.55" fill="#006400"/><circle cx="764.6" cy="276.3" r="5.55" fill="#006400"/><circle cx="768.3" cy="281.1" r="5.55" fill="#006400"/><circle cx="778.5" cy="288.9" r="5.55" fill="#006400"/><circle cx="780.9" cy="301.1" r="5.55" fill="#006400"/><circle cx="788.0" cy="304.8" r="5.55" fill="#006400"/><circle cx="792.7" cy="302.1" r="5.55" fill="#006400"/><circle cx="801.3" cy="274.2" r="5.55" fill="#006400"/><circle cx="812.5" cy="262.8" r="5.55" fill="#006400"/><circle cx="814.5" cy="277.7" r="5.55" fill="#006400"/><circle cx="823.1" cy="287.3" r="5.55" fill="#006400"/><circle cx="828.2" cy="288.9" r="5.55" fill="#006400"/><circle cx="830.3" cy="276.3" r="5.55" fill="#006400"/><circle cx="835.4" cy="291.3" r="5.55" fill="#006400"/><circle cx="839.4" cy="294.6" r="5.55" fill="#006400"/><circle cx="843.5" cy="295.0" r="5.55" fill="#006400"/><circle cx="857.8" cy="275.6" r="5.55" fill="#006400"/><circle cx="861.4" cy="270.1" r="5.55" fill="#006400"/><circle cx="866.9" cy="275.6" r="5.55" fill="#006400"/><circle cx="869.0" cy="281.8" r="5.55" fill="#006400"/><circle cx="872.4" cy="303.5" r="5.55" fill="#006400"/><circle cx="874.1" cy="284.8" r="5.55" fill="#006400"/><circle cx="880.2" cy="284.4" r="5.55" fill="#006400"/><circle cx="883.2" cy="274.6" r="5.55" fill="#006400"/><circle cx="886.3" cy="285.8" r="5.55" fill="#006400"/><circle cx="892.0" cy="291.9" r="5.55" fill="#006400"/><circle cx="894.4" cy="275.6" r="5.55" fill="#006400"/><circle cx="915.2" cy="272.6" r="5.55" fill="#006400"/><circle cx="918.9" cy="263.4" r="5.55" fill="#006400"/><circle cx="922.9" cy="276.3" r="5.55" fill="#006400"/><circle cx="935.2" cy="289.9" r="5.55" fill="#006400"/><circle cx="937.2" cy="297.0" r="5.55" fill="#006400"/><circle cx="943.3" cy="299.1" r="5.55" fill="#006400"/><circle cx="947.4" cy="303.1" r="5.55" fill="#006400"/><circle cx="950.4" cy="290.9" r="5.55" fill="#006400"/><circle cx="952.5" cy="282.8" r="5.55" fill="#006400"/><circle cx="956.5" cy="287.9" r="5.55" fill="#006400"/><circle cx="958.6" cy="277.7" r="5.55" fill="#006400"/><circle cx="965.7" cy="277.7" r="5.55" fill="#006400"/><circle cx="971.8" cy="275.6" r="5.55" fill="#006400"/><circle cx="977.9" cy="283.8" r="5.55" fill="#006400"/><circle cx="988.1" cy="297.0" r="5.55" fill="#006400"/><circle cx="998.3" cy="293.4" r="5.55" fill="#006400"/><circle cx="1008.5" cy="276.7" r="5.55" fill="#006400"/><circle cx="1012.6" cy="269.5" r="5.55" fill="#006400"/><circle cx="1018.1" cy="278.7" r="5.55" fill="#006400"/><circle cx="1023.2" cy="282.4" r="5.55" fill="#006400"/><circle cx="1029.3" cy="290.9" r="5.55" fill="#006400"/><circle cx="1034.0" cy="278.3" r="5.55" fill="#006400"/><circle cx="1038.5" cy="290.9" r="5.55" fill="#006400"/><circle cx="1041.6" cy="297.0" r="5.55" fill="#006400"/><circle cx="1045.6" cy="298.7" r="5.55" fill="#006400"/><circle cx="1047.1" cy="275.6" r="5.55" fill="#006400"/><circle cx="1053.2" cy="285.2" r="5.55" fill="#006400"/><circle cx="1057.9" cy="276.7" r="5.55" fill="#006400"/><circle cx="1064.6" cy="270.5" r="5.55" fill="#006400"/><circle cx="1071.1" cy="262.0" r="5.55" fill="#006400"/><circle cx="1073.1" cy="281.8" r="5.55" fill="#006400"/><circle cx="1078.2" cy="279.7" r="5.55" fill="#006400"/><circle cx="1082.3" cy="293.4" r="5.55" fill="#006400"/><circle cx="1091.1" cy="283.8" r="5.55" fill="#006400"/><circle cx="1093.9" cy="288.9" r="5.55" fill="#006400"/><circle cx="1097.6" cy="297.0" r="5.55" fill="#006400"/><circle cx="1102.7" cy="294.0" r="5.55" fill="#006400"/><circle cx="1115.5" cy="279.7" r="5.55" fill="#006400"/><circle cx="1131.2" cy="281.8" r="5.55" fill="#006400"/><circle cx="1136.3" cy="280.7" r="5.55" fill="#006400"/><circle cx="1139.3" cy="290.5" r="5.55" fill="#006400"/><circle cx="1148.9" cy="293.4" r="5.55" fill="#006400"/><circle cx="1153.6" cy="283.8" r="5.55" fill="#006400"/><circle cx="1164.4" cy="276.7" r="5.55" fill="#006400"/><circle cx="1177.4" cy="273.6" r="5.55" fill="#006400"/><circle cx="1186.2" cy="282.4" r="5.55" fill="#006400"/><circle cx="1189.2" cy="288.9" r="5.55" fill="#006400"/><circle cx="1193.3" cy="291.9" r="5.55" fill="#006400"/><circle cx="1197.4" cy="298.0" r="5.55" fill="#006400"/><circle cx="1200.4" cy="303.1" r="5.55" fill="#006400"/><circle cx="1204.5" cy="304.2" r="5.55" fill="#006400"/><circle cx="1215.2" cy="282.8" r="5.55" fill="#006400"/><circle cx="1241.7" cy="300.7" r="5.55" fill="#006400"/><circle cx="1246.1" cy="288.5" r="5.55" fill="#006400"/><circle cx="1247.8" cy="300.1" r="5.55" fill="#006400"/><circle cx="1252.9" cy="301.5" r="5.55" fill="#006400"/><circle cx="1256.9" cy="285.8" r="5.55" fill="#006400"/><circle cx="1260.4" cy="280.3" r="5.55" fill="#006400"/><circle cx="1264.1" cy="276.3" r="5.55" fill="#006400"/><circle cx="1275.3" cy="277.1" r="5.55" fill="#006400"/><circle cx="1277.3" cy="280.7" r="5.55" fill="#006400"/><circle cx="1286.1" cy="279.7" r="5.55" fill="#006400"/><circle cx="1288.5" cy="285.8" r="5.55" fill="#006400"/><circle cx="1290.5" cy="289.9" r="5.55" fill="#006400"/><circle cx="1294.6" cy="277.7" r="5.55" fill="#006400"/><circle cx="1298.7" cy="296.6" r="5.55" fill="#006400"/><circle cx="1305.8" cy="292.5" r="5.55" fill="#006400"/><circle cx="1309.9" cy="276.7" r="5.55" fill="#006400"/><circle cx="1316.0" cy="277.7" r="5.55" fill="#006400"/><circle cx="1319.1" cy="272.6" r="5.55" fill="#006400"/><circle cx="1321.1" cy="287.9" r="5.55" fill="#006400"/><circle cx="1325.2" cy="274.6" r="5.55" fill="#006400"/><circle cx="1329.2" cy="282.4" r="5.55" fill="#006400"/><circle cx="1334.3" cy="289.9" r="5.55" fill="#006400"/><circle cx="1336.4" cy="285.2" r="5.55" fill="#006400"/><circle cx="1341.5" cy="298.0" r="5.55" fill="#006400"/><circle cx="1344.5" cy="301.5" r="5.55" fill="#006400"/><circle cx="1347.6" cy="307.2" r="5.55" fill="#006400"/><circle cx="1354.7" cy="305.0" r="5.55" fill="#006400"/><circle cx="1372.0" cy="274.6" r="5.55" fill="#006400"/><circle cx="1377.1" cy="275.6" r="5.55" fill="#006400"/><circle cx="1383.2" cy="289.9" r="5.55" fill="#006400"/><circle cx="1390.3" cy="287.9" r="5.55" fill="#006400"/><circle cx="1396.4" cy="296.0" r="5.55" fill="#006400"/><circle cx="1399.1" cy="304.8" r="5.55" fill="#006400"/><circle cx="1405.2" cy="306.8" r="5.55" fill="#006400"/><circle cx="1407.9" cy="288.5" r="5.55" fill="#006400"/><circle cx="1414.0" cy="294.6" r="5.55" fill="#006400"/><circle cx="1418.7" cy="274.9" r="5.55" fill="#006400"/><circle cx="1424.9" cy="283.1" r="5.55" fill="#006400"/><circle cx="1430.0" cy="272.9" r="5.55" fill="#006400"/><circle cx="1431.6" cy="285.8" r="5.55" fill="#006400"/><circle cx="1435.7" cy="281.7" r="5.55" fill="#006400"/><circle cx="1439.8" cy="287.1" r="5.55" fill="#006400"/><circle cx="1440.5" cy="293.9" r="5.55" fill="#006400"/><circle cx="1442.5" cy="299.3" r="5.55" fill="#006400"/><circle cx="1447.9" cy="290.5" r="5.55" fill="#006400"/><circle cx="1448.6" cy="303.4" r="5.55" fill="#006400"/><circle cx="1454.0" cy="308.2" r="5.55" fill="#006400"/><circle cx="1456.1" cy="285.1" r="5.55" fill="#006400"/><circle cx="1465.3" cy="281.0" r="5.55" fill="#006400"/><circle cx="1478.4" cy="282.4" r="5.55" fill="#006400"/><circle cx="1487.3" cy="286.5" r="5.55" fill="#006400"/><circle cx="1489.3" cy="296.0" r="5.55" fill="#006400"/><circle cx="1492.1" cy="292.6" r="5.55" fill="#006400"/><circle cx="1494.1" cy="302.1" r="5.55" fill="#006400"/><circle cx="1502.2" cy="304.1" r="5.55" fill="#006400"/><circle cx="1507.0" cy="298.0" r="5.55" fill="#006400"/><circle cx="1519.2" cy="275.6" r="5.55" fill="#006400"/><circle cx="1520.6" cy="283.1" r="5.55" fill="#006400"/><circle cx="1524.0" cy="288.5" r="5.55" fill="#006400"/><circle cx="1527.3" cy="277.0" r="5.55" fill="#006400"/><circle cx="1534.1" cy="287.1" r="5.55" fill="#006400"/><circle cx="1537.5" cy="296.0" r="5.55" fill="#006400"/><circle cx="1540.2" cy="289.2" r="5.55" fill="#006400"/><circle cx="1545.0" cy="296.6" r="5.55" fill="#006400"/><circle cx="1547.7" cy="308.2" r="5.55" fill="#006400"/><circle cx="1553.1" cy="312.9" r="5.55" fill="#006400"/><circle cx="1564.7" cy="272.2" r="5.55" fill="#006400"/><circle cx="1577.6" cy="272.9" r="5.55" fill="#006400"/><circle cx="1582.5" cy="284.4" r="5.55" fill="#006400"/><circle cx="1589.1" cy="294.4" r="5.55" fill="#006400"/><circle cx="1593.2" cy="286.6" r="5.55" fill="#006400"/><circle cx="1595.7" cy="297.6" r="5.55" fill="#006400"/><circle cx="1599.0" cy="302.5" r="5.55" fill="#006400"/><circle cx="1602.4" cy="304.3" r="5.55" fill="#006400"/><circle cx="1607.5" cy="286.6" r="5.55" fill="#006400"/><circle cx="1609.0" cy="293.2" r="5.55" fill="#006400"/><circle cx="1611.9" cy="282.2" r="5.55" fill="#006400"/><circle cx="1615.6" cy="289.6" r="5.55" fill="#006400"/><circle cx="1635.4" cy="280.0" r="5.55" fill="#006400"/><circle cx="1638.4" cy="284.4" r="5.55" fill="#006400"/><circle cx="1642.8" cy="292.5" r="5.55" fill="#006400"/><circle cx="1645.0" cy="299.1" r="5.55" fill="#006400"/><circle cx="1650.1" cy="303.5" r="5.55" fill="#006400"/><circle cx="1659.7" cy="303.5" r="5.55" fill="#006400"/><circle cx="1661.9" cy="287.4" r="5.55" fill="#006400"/><circle cx="51.6" cy="179.7" r="5.55" fill="#FF0000"/><circle cx="56.1" cy="208.0" r="5.55" fill="#FF0000"/><circle cx="58.4" cy="228.3" r="5.55" fill="#FF0000"/><circle cx="71.5" cy="218.8" r="5.55" fill="#FF0000"/><circle cx="73.7" cy="226.5" r="5.55" fill="#FF0000"/><circle cx="76.5" cy="217.5" r="5.55" fill="#FF0000"/><circle cx="80.5" cy="224.3" r="5.55" fill="#FF0000"/><circle cx="86.6" cy="194.4" r="5.55" fill="#FF0000"/><circle cx="93.4" cy="202.3" r="5.55" fill="#FF0000"/><circle cx="96.4" cy="196.2" r="5.55" fill="#FF0000"/><circle cx="102.5" cy="207.5" r="5.55" fill="#FF0000"/><circle cx="117.2" cy="203.9" r="5.55" fill="#FF0000"/><circle cx="119.9" cy="197.8" r="5.55" fill="#FF0000"/><circle cx="125.1" cy="208.0" r="5.55" fill="#FF0000"/><circle cx="128.5" cy="218.2" r="5.55" fill="#FF0000"/><circle cx="135.7" cy="186.5" r="5.55" fill="#FF0000"/><circle cx="150.7" cy="198.9" r="5.55" fill="#FF0000"/><circle cx="157.9" cy="195.5" r="5.55" fill="#FF0000"/><circle cx="161.3" cy="200.1" r="5.55" fill="#FF0000"/><circle cx="162.0" cy="217.5" r="5.55" fill="#FF0000"/><circle cx="168.8" cy="202.3" r="5.55" fill="#FF0000"/><circle cx="171.0" cy="213.0" r="5.55" fill="#FF0000"/><circle cx="176.5" cy="212.5" r="5.55" fill="#FF0000"/><circle cx="180.1" cy="209.8" r="5.55" fill="#FF0000"/><circle cx="193.0" cy="213.0" r="5.55" fill="#FF0000"/><circle cx="208.1" cy="198.5" r="5.55" fill="#FF0000"/><circle cx="211.1" cy="189.9" r="5.55" fill="#FF0000"/><circle cx="217.9" cy="196.7" r="5.55" fill="#FF0000"/><circle cx="225.8" cy="190.3" r="5.55" fill="#FF0000"/><circle cx="230.8" cy="201.2" r="5.55" fill="#FF0000"/><circle cx="233.0" cy="185.4" r="5.55" fill="#FF0000"/><circle cx="257.1" cy="180.4" r="5.55" fill="#FF0000"/><circle cx="272.5" cy="215.9" r="5.55" fill="#FF0000"/><circle cx="276.4" cy="213.6" r="5.55" fill="#FF0000"/><circle cx="279.3" cy="218.2" r="5.55" fill="#FF0000"/><circle cx="281.6" cy="188.8" r="5.55" fill="#FF0000"/><circle cx="286.6" cy="212.5" r="5.55" fill="#FF0000"/><circle cx="290.6" cy="215.9" r="5.55" fill="#FF0000"/><circle cx="295.2" cy="202.3" r="5.55" fill="#FF0000"/><circle cx="312.6" cy="213.6" r="5.55" fill="#FF0000"/><circle cx="314.8" cy="218.2" r="5.55" fill="#FF0000"/><circle cx="323.2" cy="209.1" r="5.55" fill="#FF0000"/><circle cx="328.4" cy="213.6" r="5.55" fill="#FF0000"/><circle cx="329.5" cy="232.4" r="5.55" fill="#FF0000"/><circle cx="334.1" cy="228.3" r="5.55" fill="#FF0000"/><circle cx="339.0" cy="221.6" r="5.55" fill="#FF0000"/><circle cx="352.2" cy="191.7" r="5.55" fill="#FF0000"/><circle cx="356.7" cy="223.4" r="5.55" fill="#FF0000"/><circle cx="359.0" cy="244.6" r="5.55" fill="#FF0000"/><circle cx="360.8" cy="205.7" r="5.55" fill="#FF0000"/><circle cx="365.7" cy="207.5" r="5.55" fill="#FF0000"/><circle cx="369.8" cy="216.6" r="5.55" fill="#FF0000"/><circle cx="374.3" cy="257.3" r="5.55" fill="#FF0000"/><circle cx="377.1" cy="217.0" r="5.55" fill="#FF0000"/><circle cx="406.5" cy="207.5" r="5.55" fill="#FF0000"/><circle cx="416.7" cy="210.2" r="5.55" fill="#FF0000"/><circle cx="426.8" cy="232.4" r="5.55" fill="#FF0000"/><circle cx="430.7" cy="226.1" r="5.55" fill="#FF0000"/><circle cx="434.5" cy="225.6" r="5.55" fill="#FF0000"/><circle cx="438.6" cy="212.1" r="5.55" fill="#FF0000"/><circle cx="458.5" cy="215.2" r="5.55" fill="#FF0000"/><circle cx="463.0" cy="220.4" r="5.55" fill="#FF0000"/><circle cx="473.0" cy="218.2" r="5.55" fill="#FF0000"/><circle cx="476.6" cy="211.4" r="5.55" fill="#FF0000"/><circle cx="480.4" cy="219.3" r="5.55" fill="#FF0000"/><circle cx="483.4" cy="190.3" r="5.55" fill="#FF0000"/><circle cx="485.0" cy="226.5" r="5.55" fill="#FF0000"/><circle cx="488.3" cy="220.4" r="5.55" fill="#FF0000"/><circle cx="496.3" cy="207.5" r="5.55" fill="#FF0000"/><circle cx="500.8" cy="229.5" r="5.55" fill="#FF0000"/><circle cx="506.9" cy="201.7" r="5.55" fill="#FF0000"/><circle cx="513.2" cy="208.4" r="5.55" fill="#FF0000"/><circle cx="516.6" cy="209.8" r="5.55" fill="#FF0000"/><circle cx="522.7" cy="211.4" r="5.55" fill="#FF0000"/><circle cx="524.5" cy="201.7" r="5.55" fill="#FF0000"/><circle cx="527.9" cy="209.1" r="5.55" fill="#FF0000"/><circle cx="531.3" cy="213.6" r="5.55" fill="#FF0000"/><circle cx="538.1" cy="208.0" r="5.55" fill="#FF0000"/><circle cx="551.2" cy="194.0" r="5.55" fill="#FF0000"/><circle cx="561.9" cy="190.3" r="5.55" fill="#FF0000"/><circle cx="564.8" cy="198.9" r="5.55" fill="#FF0000"/><circle cx="568.7" cy="212.1" r="5.55" fill="#FF0000"/><circle cx="575.5" cy="217.5" r="5.55" fill="#FF0000"/><circle cx="577.0" cy="223.4" r="5.55" fill="#FF0000"/><circle cx="582.9" cy="226.1" r="5.55" fill="#FF0000"/><circle cx="586.8" cy="208.4" r="5.55" fill="#FF0000"/><circle cx="591.3" cy="215.9" r="5.55" fill="#FF0000"/><circle cx="610.5" cy="205.3" r="5.55" fill="#FF0000"/><circle cx="615.0" cy="205.3" r="5.55" fill="#FF0000"/><circle cx="620.0" cy="210.2" r="5.55" fill="#FF0000"/><circle cx="623.0" cy="231.7" r="5.55" fill="#FF0000"/><circle cx="633.6" cy="231.7" r="5.55" fill="#FF0000"/><circle cx="635.4" cy="244.6" r="5.55" fill="#FF0000"/><circle cx="642.2" cy="219.8" r="5.55" fill="#FF0000"/><circle cx="655.1" cy="203.5" r="5.55" fill="#FF0000"/><circle cx="661.9" cy="192.6" r="5.55" fill="#FF0000"/><circle cx="666.4" cy="213.0" r="5.55" fill="#FF0000"/><circle cx="673.2" cy="214.3" r="5.55" fill="#FF0000"/><circle cx="682.2" cy="220.4" r="5.55" fill="#FF0000"/><circle cx="686.1" cy="232.9" r="5.55" fill="#FF0000"/><circle cx="690.1" cy="224.3" r="5.55" fill="#FF0000"/><circle cx="692.9" cy="217.0" r="5.55" fill="#FF0000"/><circle cx="708.2" cy="195.5" r="5.55" fill="#FF0000"/><circle cx="711.6" cy="203.5" r="5.55" fill="#FF0000"/><circle cx="715.0" cy="209.1" r="5.55" fill="#FF0000"/><circle cx="717.7" cy="214.8" r="5.55" fill="#FF0000"/><circle cx="724.1" cy="202.3" r="5.55" fill="#FF0000"/><circle cx="725.9" cy="220.4" r="5.55" fill="#FF0000"/><circle cx="735.4" cy="222.7" r="5.55" fill="#FF0000"/><circle cx="736.5" cy="232.9" r="5.55" fill="#FF0000"/><circle cx="739.5" cy="242.4" r="5.55" fill="#FF0000"/><circle cx="744.0" cy="235.6" r="5.55" fill="#FF0000"/><circle cx="746.2" cy="203.9" r="5.55" fill="#FF0000"/><circle cx="759.1" cy="197.8" r="5.55" fill="#FF0000"/><circle cx="763.7" cy="213.6" r="5.55" fill="#FF0000"/><circle cx="768.9" cy="215.9" r="5.55" fill="#FF0000"/><circle cx="776.6" cy="220.4" r="5.55" fill="#FF0000"/><circle cx="779.5" cy="198.5" r="5.55" fill="#FF0000"/><circle cx="781.8" cy="220.4" r="5.55" fill="#FF0000"/><circle cx="786.3" cy="226.1" r="5.55" fill="#FF0000"/><circle cx="791.9" cy="230.2" r="5.55" fill="#FF0000"/><circle cx="793.8" cy="227.2" r="5.55" fill="#FF0000"/><circle cx="801.0" cy="196.7" r="5.55" fill="#FF0000"/><circle cx="812.3" cy="185.8" r="5.55" fill="#FF0000"/><circle cx="814.6" cy="211.4" r="5.55" fill="#FF0000"/><circle cx="823.6" cy="229.5" r="5.55" fill="#FF0000"/><circle cx="827.4" cy="213.0" r="5.55" fill="#FF0000"/><circle cx="830.4" cy="200.7" r="5.55" fill="#FF0000"/><circle cx="835.4" cy="212.5" r="5.55" fill="#FF0000"/><circle cx="837.2" cy="219.8" r="5.55" fill="#FF0000"/><circle cx="843.3" cy="215.2" r="5.55" fill="#FF0000"/><circle cx="856.9" cy="195.5" r="5.55" fill="#FF0000"/><circle cx="861.4" cy="200.1" r="5.55" fill="#FF0000"/><circle cx="865.9" cy="198.9" r="5.55" fill="#FF0000"/><circle cx="870.4" cy="204.6" r="5.55" fill="#FF0000"/><circle cx="872.2" cy="257.3" r="5.55" fill="#FF0000"/><circle cx="874.3" cy="208.0" r="5.55" fill="#FF0000"/><circle cx="880.6" cy="203.5" r="5.55" fill="#FF0000"/><circle cx="883.3" cy="192.6" r="5.55" fill="#FF0000"/><circle cx="885.6" cy="209.1" r="5.55" fill="#FF0000"/><circle cx="891.9" cy="220.4" r="5.55" fill="#FF0000"/><circle cx="894.2" cy="205.7" r="5.55" fill="#FF0000"/><circle cx="917.9" cy="193.3" r="5.55" fill="#FF0000"/><circle cx="923.1" cy="206.9" r="5.55" fill="#FF0000"/><circle cx="933.1" cy="223.4" r="5.55" fill="#FF0000"/><circle cx="936.0" cy="214.8" r="5.55" fill="#FF0000"/><circle cx="940.6" cy="219.3" r="5.55" fill="#FF0000"/><circle cx="945.8" cy="218.8" r="5.55" fill="#FF0000"/><circle cx="949.6" cy="214.3" r="5.55" fill="#FF0000"/><circle cx="951.9" cy="201.7" r="5.55" fill="#FF0000"/><circle cx="954.1" cy="194.0" r="5.55" fill="#FF0000"/><circle cx="957.1" cy="208.0" r="5.55" fill="#FF0000"/><circle cx="959.8" cy="195.5" r="5.55" fill="#FF0000"/><circle cx="964.3" cy="201.7" r="5.55" fill="#FF0000"/><circle cx="970.7" cy="201.2" r="5.55" fill="#FF0000"/><circle cx="974.5" cy="203.5" r="5.55" fill="#FF0000"/><circle cx="978.3" cy="219.3" r="5.55" fill="#FF0000"/><circle cx="989.2" cy="215.9" r="5.55" fill="#FF0000"/><circle cx="998.3" cy="218.2" r="5.55" fill="#FF0000"/><circle cx="1009.1" cy="205.3" r="5.55" fill="#FF0000"/><circle cx="1011.8" cy="196.7" r="5.55" fill="#FF0000"/><circle cx="1013.0" cy="189.9" r="5.55" fill="#FF0000"/><circle cx="1019.0" cy="194.9" r="5.55" fill="#FF0000"/><circle cx="1023.1" cy="200.7" r="5.55" fill="#FF0000"/><circle cx="1029.2" cy="210.2" r="5.55" fill="#FF0000"/><circle cx="1033.8" cy="203.5" r="5.55" fill="#FF0000"/><circle cx="1038.3" cy="215.2" r="5.55" fill="#FF0000"/><circle cx="1040.5" cy="221.1" r="5.55" fill="#FF0000"/><circle cx="1045.7" cy="216.6" r="5.55" fill="#FF0000"/><circle cx="1046.7" cy="201.2" r="5.55" fill="#FF0000"/><circle cx="1053.4" cy="211.4" r="5.55" fill="#FF0000"/><circle cx="1058.0" cy="199.4" r="5.55" fill="#FF0000"/><circle cx="1064.3" cy="194.0" r="5.55" fill="#FF0000"/><circle cx="1071.1" cy="188.1" r="5.55" fill="#FF0000"/><circle cx="1073.3" cy="205.7" r="5.55" fill="#FF0000"/><circle cx="1079.0" cy="209.1" r="5.55" fill="#FF0000"/><circle cx="1082.4" cy="240.8" r="5.55" fill="#FF0000"/><circle cx="1091.4" cy="214.3" r="5.55" fill="#FF0000"/><circle cx="1094.2" cy="220.4" r="5.55" fill="#FF0000"/><circle cx="1098.2" cy="227.9" r="5.55" fill="#FF0000"/><circle cx="1100.5" cy="224.3" r="5.55" fill="#FF0000"/><circle cx="1102.8" cy="215.2" r="5.55" fill="#FF0000"/><circle cx="1115.2" cy="203.5" r="5.55" fill="#FF0000"/><circle cx="1131.0" cy="211.4" r="5.55" fill="#FF0000"/><circle cx="1134.4" cy="216.6" r="5.55" fill="#FF0000"/><circle cx="1140.1" cy="219.3" r="5.55" fill="#FF0000"/><circle cx="1148.5" cy="219.3" r="5.55" fill="#FF0000"/><circle cx="1153.7" cy="213.6" r="5.55" fill="#FF0000"/><circle cx="1163.8" cy="200.1" r="5.55" fill="#FF0000"/><circle cx="1177.4" cy="197.8" r="5.55" fill="#FF0000"/><circle cx="1186.9" cy="200.7" r="5.55" fill="#FF0000"/><circle cx="1188.7" cy="213.0" r="5.55" fill="#FF0000"/><circle cx="1191.0" cy="208.0" r="5.55" fill="#FF0000"/><circle cx="1196.7" cy="212.5" r="5.55" fill="#FF0000"/><circle cx="1197.8" cy="219.3" r="5.55" fill="#FF0000"/><circle cx="1201.2" cy="224.3" r="5.55" fill="#FF0000"/><circle cx="1205.0" cy="226.1" r="5.55" fill="#FF0000"/><circle cx="1215.2" cy="197.8" r="5.55" fill="#FF0000"/><circle cx="1241.2" cy="218.8" r="5.55" fill="#FF0000"/><circle cx="1243.5" cy="229.5" r="5.55" fill="#FF0000"/><circle cx="1246.2" cy="217.5" r="5.55" fill="#FF0000"/><circle cx="1248.4" cy="233.3" r="5.55" fill="#FF0000"/><circle cx="1253.0" cy="227.2" r="5.55" fill="#FF0000"/><circle cx="1257.0" cy="216.6" r="5.55" fill="#FF0000"/><circle cx="1261.6" cy="207.5" r="5.55" fill="#FF0000"/><circle cx="1263.8" cy="199.4" r="5.55" fill="#FF0000"/><circle cx="1274.7" cy="204.6" r="5.55" fill="#FF0000"/><circle cx="1276.9" cy="215.9" r="5.55" fill="#FF0000"/><circle cx="1285.3" cy="209.1" r="5.55" fill="#FF0000"/><circle cx="1289.8" cy="215.2" r="5.55" fill="#FF0000"/><circle cx="1295.0" cy="194.4" r="5.55" fill="#FF0000"/><circle cx="1298.9" cy="214.8" r="5.55" fill="#FF0000"/><circle cx="1305.7" cy="220.4" r="5.55" fill="#FF0000"/><circle cx="1310.2" cy="198.5" r="5.55" fill="#FF0000"/><circle cx="1316.3" cy="211.4" r="5.55" fill="#FF0000"/><circle cx="1319.3" cy="191.0" r="5.55" fill="#FF0000"/><circle cx="1321.5" cy="226.5" r="5.55" fill="#FF0000"/><circle cx="1323.1" cy="202.3" r="5.55" fill="#FF0000"/><circle cx="1329.0" cy="210.2" r="5.55" fill="#FF0000"/><circle cx="1335.1" cy="215.2" r="5.55" fill="#FF0000"/><circle cx="1336.7" cy="202.3" r="5.55" fill="#FF0000"/><circle cx="1340.7" cy="218.2" r="5.55" fill="#FF0000"/><circle cx="1346.4" cy="217.5" r="5.55" fill="#FF0000"/><circle cx="1352.1" cy="221.6" r="5.55" fill="#FF0000"/><circle cx="1355.5" cy="224.3" r="5.55" fill="#FF0000"/><circle cx="1372.0" cy="189.4" r="5.55" fill="#FF0000"/><circle cx="1376.9" cy="203.5" r="5.55" fill="#FF0000"/><circle cx="1383.3" cy="221.6" r="5.55" fill="#FF0000"/><circle cx="1386.0" cy="215.9" r="5.55" fill="#FF0000"/><circle cx="1390.1" cy="209.1" r="5.55" fill="#FF0000"/><circle cx="1395.0" cy="215.2" r="5.55" fill="#FF0000"/><circle cx="1400.0" cy="219.3" r="5.55" fill="#FF0000"/><circle cx="1405.2" cy="224.3" r="5.55" fill="#FF0000"/><circle cx="1407.9" cy="209.4" r="5.55" fill="#FF0000"/><circle cx="1409.9" cy="201.3" r="5.55" fill="#FF0000"/><circle cx="1414.7" cy="216.9" r="5.55" fill="#FF0000"/><circle cx="1418.7" cy="191.8" r="5.55" fill="#FF0000"/><circle cx="1425.5" cy="202.6" r="5.55" fill="#FF0000"/><circle cx="1427.6" cy="210.8" r="5.55" fill="#FF0000"/><circle cx="1430.3" cy="201.3" r="5.55" fill="#FF0000"/><circle cx="1432.3" cy="213.5" r="5.55" fill="#FF0000"/><circle cx="1439.1" cy="211.5" r="5.55" fill="#FF0000"/><circle cx="1441.1" cy="220.3" r="5.55" fill="#FF0000"/><circle cx="1445.2" cy="229.8" r="5.55" fill="#FF0000"/><circle cx="1448.6" cy="215.5" r="5.55" fill="#FF0000"/><circle cx="1454.0" cy="234.5" r="5.55" fill="#FF0000"/><circle cx="1456.1" cy="212.8" r="5.55" fill="#FF0000"/><circle cx="1464.9" cy="206.0" r="5.55" fill="#FF0000"/><circle cx="1479.8" cy="210.1" r="5.55" fill="#FF0000"/><circle cx="1484.6" cy="212.1" r="5.55" fill="#FF0000"/><circle cx="1490.0" cy="221.6" r="5.55" fill="#FF0000"/><circle cx="1493.4" cy="212.1" r="5.55" fill="#FF0000"/><circle cx="1502.2" cy="230.5" r="5.55" fill="#FF0000"/><circle cx="1507.0" cy="225.0" r="5.55" fill="#FF0000"/><circle cx="1517.9" cy="204.7" r="5.55" fill="#FF0000"/><circle cx="1520.6" cy="194.5" r="5.55" fill="#FF0000"/><circle cx="1523.3" cy="228.4" r="5.55" fill="#FF0000"/><circle cx="1527.3" cy="202.6" r="5.55" fill="#FF0000"/><circle cx="1528.7" cy="217.6" r="5.55" fill="#FF0000"/><circle cx="1534.1" cy="221.6" r="5.55" fill="#FF0000"/><circle cx="1535.5" cy="213.5" r="5.55" fill="#FF0000"/><circle cx="1538.9" cy="215.5" r="5.55" fill="#FF0000"/><circle cx="1543.7" cy="222.8" r="5.55" fill="#FF0000"/><circle cx="1545.0" cy="214.2" r="5.55" fill="#FF0000"/><circle cx="1547.7" cy="225.7" r="5.55" fill="#FF0000"/><circle cx="1553.1" cy="235.2" r="5.55" fill="#FF0000"/><circle cx="1564.7" cy="197.2" r="5.55" fill="#FF0000"/><circle cx="1578.1" cy="209.9" r="5.55" fill="#FF0000"/><circle cx="1582.9" cy="209.2" r="5.55" fill="#FF0000"/><circle cx="1589.0" cy="221.4" r="5.55" fill="#FF0000"/><circle cx="1593.1" cy="214.6" r="5.55" fill="#FF0000"/><circle cx="1595.1" cy="226.8" r="5.55" fill="#FF0000"/><circle cx="1601.2" cy="219.3" r="5.55" fill="#FF0000"/><circle cx="1604.6" cy="225.5" r="5.55" fill="#FF0000"/><circle cx="1606.6" cy="209.2" r="5.55" fill="#FF0000"/><circle cx="1612.1" cy="207.8" r="5.55" fill="#FF0000"/><circle cx="1615.5" cy="220.7" r="5.55" fill="#FF0000"/><circle cx="1635.1" cy="205.8" r="5.55" fill="#FF0000"/><circle cx="1637.8" cy="214.6" r="5.55" fill="#FF0000"/><circle cx="1642.6" cy="222.1" r="5.55" fill="#FF0000"/><circle cx="1650.7" cy="226.8" r="5.55" fill="#FF0000"/><circle cx="1652.8" cy="217.3" r="5.55" fill="#FF0000"/><circle cx="1659.6" cy="224.1" r="5.55" fill="#FF0000"/><circle cx="1661.6" cy="207.1" r="5.55" fill="#FF0000"/></g><line x1="34.4" x2="38.8" y1="7.35" y2="7.35" stroke="#333333" stroke-width="1.5"/><text x="7.56" y="11.75" font-family="Liberation Sans" font-size="12.2" fill="#4D4D4D">2</text><text x="14.34" y="11.75" font-family="Liberation Sans" font-size="12.2" fill="#4D4D4D">.</text><text x="17.73" y="11.75" font-family="Liberation Sans" font-size="12.2" fill="#4D4D4D">0</text><text x="24.52" y="11.75" font-family="Liberation Sans" font-size="12.2" fill="#4D4D4D">0</text><line x1="34.4" x2="38.8" y1="92.00" y2="92.00" stroke="#333333" stroke-width="1.5"/><polygon points="12.10,96.40 11.03,96.40 11.03,89.57 10.64,89.94 10.14,90.31 9.51,90.68 8.89,90.97 8.89,89.93 9.79,89.41 10.54,88.81 11.08,88.20 11.41,87.67 12.10,87.67" fill="#4D4D4D"/><text x="14.34" y="96.40" font-family="Liberation Sans" font-size="12.2" fill="#4D4D4D">.</text><text x="17.73" y="96.40" font-family="Liberation Sans" font-size="12.2" fill="#4D4D4D">7</text><text x="24.52" y="96.40" font-family="Liberation Sans" font-size="12.2" fill="#4D4D4D">5</text><line x1="34.4" x2="38.8" y1="176.65" y2="176.65" stroke="#333333" stroke-width="1.5"/><polygon points="12.10,181.05 11.03,181.05 11.03,174.22 10.64,174.59 10.14,174.96 9.51,175.33 8.89,175.62 8.89,174.58 9.79,174.06 10.54,173.46 11.08,172.85 11.41,172.32 12.10,172.32" fill="#4D4D4D"/><text x="14.34" y="181.05" font-family="Liberation Sans" font-size="12.2" fill="#4D4D4D">.</text><text x="17.73" y="181.05" font-family="Liberation Sans" font-size="12.2" fill="#4D4D4D">5</text><text x="24.52" y="181.05" font-family="Liberation Sans" font-size="12.2" fill="#4D4D4D">0</text><line x1="34.4" x2="38.8" y1="261.30" y2="261.30" stroke="#333333" stroke-width="1.5"/><polygon points="12.10,265.70 11.03,265.70 11.03,258.87 10.64,259.24 10.14,259.61 9.51,259.98 8.89,260.27 8.89,259.23 9.79,258.71 10.54,258.11 11.08,257.50 11.41,256.97 12.10,256.97" fill="#4D4D4D"/><text x="14.34" y="265.70" font-family="Liberation Sans" font-size="12.2" fill="#4D4D4D">.</text><text x="17.73" y="265.70" font-family="Liberation Sans" font-size="12.2" fill="#4D4D4D">2</text><text x="24.52" y="265.70" font-family="Liberation Sans" font-size="12.2" fill="#4D4D4D">5</text><line x1="34.4" x2="38.8" y1="345.95" y2="345.95" stroke="#333333" stroke-width="1.5"/><polygon points="12.10,350.35 11.03,350.35 11.03,343.52 10.64,343.89 10.14,344.26 9.51,344.63 8.89,344.92 8.89,343.88 9.79,343.36 10.54,342.76 11.08,342.15 11.41,341.62 12.10,341.62" fill="#4D4D4D"/><text x="14.34" y="350.35" font-family="Liberation Sans" font-size="12.2" fill="#4D4D4D">.</text><text x="17.73" y="350.35" font-family="Liberation Sans" font-size="12.2" fill="#4D4D4D">0</text><text x="24.52" y="350.35" font-family="Liberation Sans" font-size="12.2" fill="#4D4D4D">0</text><line x1="34.4" x2="38.8" y1="430.60" y2="430.60" stroke="#333333" stroke-width="1.5"/><text x="7.56" y="435.00" font-family="Liberation Sans" font-size="12.2" fill="#4D4D4D">0</text><text x="14.34" y="435.00" font-family="Liberation Sans" font-size="12.2" fill="#4D4D4D">.</text><text x="17.73" y="435.00" font-family="Liberation Sans" font-size="12.2" fill="#4D4D4D">7</text><text x="24.52" y="435.00" font-family="Liberation Sans" font-size="12.2" fill="#4D4D4D">5</text><line x1="38.63" x2="38.63" y1="429.70" y2="434.3" stroke="#333333" stroke-width="1.5"/><line x1="89.50" x2="89.50" y1="429.70" y2="434.3" stroke="#333333" stroke-width="1.5"/><line x1="140.37" x2="140.37" y1="429.70" y2="434.3" stroke="#333333" stroke-width="1.5"/><line x1="191.25" x2="191.25" y1="429.70" y2="434.3" stroke="#333333" stroke-width="1.5"/><line x1="242.12" x2="242.12" y1="429.70" y2="434.3" stroke="#333333" stroke-width="1.5"/><line x1="292.99" x2="292.99" y1="429.70" y2="434.3" stroke="#333333" stroke-width="1.5"/><line x1="343.87" x2="343.87" y1="429.70" y2="434.3" stroke="#333333" stroke-width="1.5"/><line x1="394.74" x2="394.74" y1="429.70" y2="434.3" stroke="#333333" stroke-width="1.5"/><line x1="445.61" x2="445.61" y1="429.70" y2="434.3" stroke="#333333" stroke-width="1.5"/><line x1="496.48" x2="496.48" y1="429.70" y2="434.3" stroke="#333333" stroke-width="1.5"/><line x1="547.36" x2="547.36" y1="429.70" y2="434.3" stroke="#333333" stroke-width="1.5"/><line x1="598.23" x2="598.23" y1="429.70" y2="434.3" stroke="#333333" stroke-width="1.5"/><line x1="649.10" x2="649.10" y1="429.70" y2="434.3" stroke="#333333" stroke-width="1.5"/><line x1="699.98" x2="699.98" y1="429.70" y2="434.3" stroke="#333333" stroke-width="1.5"/><line x1="750.85" x2="750.85" y1="429.70" y2="434.3" stroke="#333333" stroke-width="1.5"/><line x1="801.72" x2="801.72" y1="429.70" y2="434.3" stroke="#333333" stroke-width="1.5"/><line x1="852.59" x2="852.59" y1="429.70" y2="434.3" stroke="#333333" stroke-width="1.5"/><line x1="903.47" x2="903.47" y1="429.70" y2="434.3" stroke="#333333" stroke-width="1.5"/><line x1="954.34" x2="954.34" y1="429.70" y2="434.3" stroke="#333333" stroke-width="1.5"/><line x1="1005.21" x2="1005.21" y1="429.70" y2="434.3" stroke="#333333" stroke-width="1.5"/><line x1="1056.09" x2="1056.09" y1="429.70" y2="434.3" stroke="#333333" stroke-width="1.5"/><line x1="1106.96" x2="1106.96" y1="429.70" y2="434.3" stroke="#333333" stroke-width="1.5"/><line x1="1157.83" x2="1157.83" y1="429.70" y2="434.3" stroke="#333333" stroke-width="1.5"/><line x1="1208.71" x2="1208.71" y1="429.70" y2="434.3" stroke="#333333" stroke-width="1.5"/><line x1="1259.58" x2="1259.58" y1="429.70" y2="434.3" stroke="#333333" stroke-width="1.5"/><line x1="1310.45" x2="1310.45" y1="429.70" y2="434.3" stroke="#333333" stroke-width="1.5"/><line x1="1361.33" x2="1361.33" y1="429.70" y2="434.3" stroke="#333333" stroke-width="1.5"/><line x1="1412.20" x2="1412.20" y1="429.70" y2="434.3" stroke="#333333" stroke-width="1.5"/><line x1="1463.07" x2="1463.07" y1="429.70" y2="434.3" stroke="#333333" stroke-width="1.5"/><line x1="1513.94" x2="1513.94" y1="429.70" y2="434.3" stroke="#333333" stroke-width="1.5"/><line x1="1564.82" x2="1564.82" y1="429.70" y2="434.3" stroke="#333333" stroke-width="1.5"/><line x1="1615.69" x2="1615.69" y1="429.70" y2="434.3" stroke="#333333" stroke-width="1.5"/><rect x="1687" y="195" width="24" height="72" fill="#F2F2F2"/><line x1="1689" x2="1709" y1="207.00" y2="207.00" stroke="#0000FF" stroke-width="2.2"/><circle cx="1699" cy="207.00" r="5.55" fill="#0000FF"/><text x="1719.5" y="211.30" font-family="Liberation Sans" font-size="11.7" fill="#000000">NDVI</text><line x1="1689" x2="1709" y1="230.80" y2="230.80" stroke="#006400" stroke-width="2.2"/><circle cx="1699" cy="230.80" r="5.55" fill="#006400"/><text x="1719.5" y="235.10" font-family="Liberation Sans" font-size="11.7" fill="#000000">SWIR2</text><line x1="1689" x2="1709" y1="254.60" y2="254.60" stroke="#FF0000" stroke-width="2.2"/><circle cx="1699" cy="254.60" r="5.55" fill="#FF0000"/><text x="1719.5" y="258.90" font-family="Liberation Sans" font-size="11.7" fill="#000000">SWIR</text><polygon points="1754.41,258.90 1753.38,258.90 1753.38,252.35 1753.01,252.70 1752.52,253.06 1751.92,253.41 1751.32,253.69 1751.32,252.70 1752.19,252.19 1752.91,251.62 1753.43,251.04 1753.74,250.52 1754.41,250.52" fill="#000000"/></svg></body></html>
